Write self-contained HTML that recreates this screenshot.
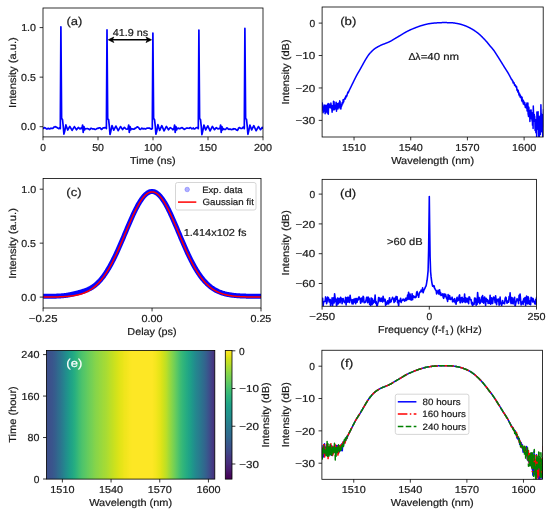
<!DOCTYPE html>
<html><head><meta charset="utf-8"><style>
html,body{margin:0;padding:0;background:#fff;}
svg{display:block;font-family:"Liberation Sans", sans-serif;text-rendering:geometricPrecision;will-change:transform;}

</style></head><body>
<svg width="550" height="513" viewBox="0 0 550 513">
<rect width="550" height="513" fill="#fff"/>
<clipPath id="ca"><rect x="43" y="8" width="220" height="128.9"/></clipPath>
<g clip-path="url(#ca)">
<polyline points="42,128.6 42.7,128.65 43.41,128.24 44.11,127.88 44.82,127.67 45.52,127.96 46.22,128.76 46.93,129.11 47.63,128.62 48.33,128.29 49.04,128.75 49.74,129 50.45,128.44 51.15,128.16 51.85,128.5 52.56,128.43 53.26,128.02 53.97,127.15 54.67,126.99 55.37,126.55 56.08,127.11 56.78,127.32 57.48,127.98 58.19,128.32 58.89,128.71 59.6,127.62 60.3,128.6 60.9,26.8 61.6,118.37 62.5,119.49 63.3,127.03 63.9,134.12 64.7,131.38 65.9,124.96 67.7,130 69.8,126.37 72.1,130.4 74.4,126.59 76.5,129.82 78.3,127.45 79.9,128.97 80.9,128.21 81.9,128.6 82.6,125 83.2,132.5 83.9,126.5 84.5,130 85.2,128.6 85.91,128.73 86.61,128.66 87.32,128.49 88.03,128.74 88.73,129.07 89.44,129.65 90.15,129.28 90.85,128.31 91.56,128.4 92.27,128.85 92.97,128.98 93.68,128.85 94.39,129.07 95.09,129.45 95.8,129.32 96.51,128.88 97.21,128.27 97.92,128.49 98.63,128.04 99.33,127.84 100.04,127.79 100.75,128.62 101.45,129.41 102.16,129.01 102.87,128.07 103.57,127.95 104.28,127.88 104.99,127.67 105.69,127.58 106.4,128.6 107,29.9 107.7,118.81 108.6,119.67 109.4,126.92 110,134.41 110.8,131.44 112,125.58 113.8,130.09 115.9,126.02 118.2,130.69 120.5,126.57 122.6,129.55 124.4,127.32 126,129 127,129.26 128,128.6 128.7,125 129.3,132.5 130,126.5 130.6,130 131.3,128.6 132,128.8 132.7,129.08 133.4,129 134.1,129.21 134.8,128.41 135.5,128.3 136.2,127.66 136.9,127.12 137.6,126.84 138.3,127.35 139,128.1 139.7,129.19 140.4,129.47 141.1,128.79 141.8,128.05 142.5,128.65 143.2,128.86 143.9,128.62 144.6,128.69 145.3,129.07 146,128.74 146.7,128.25 147.4,128.19 148.1,128.19 148.8,128.18 149.5,128.01 150.2,128.63 150.9,128.84 151.6,129.09 152.3,128.6 152.9,33.1 153.6,118.35 154.5,119.47 155.3,126.5 155.9,134.22 156.7,131.59 157.9,124.67 159.7,130.41 161.8,125.66 164.1,130.79 166.4,126.39 168.5,129.79 170.3,127.63 171.9,128.62 172.9,129.76 173.9,128.6 174.6,125 175.2,132.5 175.9,126.5 176.5,130 177.2,128.6 177.9,128.05 178.61,128.46 179.31,128.58 180.01,128.72 180.72,128.07 181.42,127.95 182.12,127.51 182.83,128.2 183.53,128.69 184.23,129.36 184.94,129.03 185.64,128.71 186.34,128.14 187.05,127.97 187.75,128.2 188.45,128.25 189.16,128.3 189.86,127.79 190.56,127.5 191.27,128.3 191.97,128.87 192.67,128.49 193.38,127.95 194.08,128.9 194.78,128.88 195.49,128.32 196.19,127.71 196.89,127.55 197.6,127.76 198.3,128.6 198.9,30 199.6,118.49 200.5,119.52 201.3,126.81 201.9,134.61 202.7,131.37 203.9,125.16 205.7,129.92 207.8,125.8 210.1,130.93 212.4,126.47 214.5,129.67 216.3,127.59 217.9,128.89 218.9,128.61 219.9,128.6 220.6,125 221.2,132.5 221.9,126.5 222.5,130 223.2,128.6 223.9,129 224.61,129.45 225.31,129.52 226.01,128.84 226.72,127.94 227.42,128.05 228.12,128.92 228.83,129.39 229.53,129.1 230.23,129.11 230.94,129.51 231.64,129.65 232.34,129.2 233.05,129.29 233.75,128.72 234.45,128.87 235.16,128.75 235.86,129.5 236.56,129.93 237.27,130.42 237.97,129.62 238.67,127.95 239.38,127.63 240.08,127.99 240.78,128.39 241.49,128.53 242.19,128.4 242.89,127.3 243.6,127.03 244.3,128.6 244.9,28.4 245.6,118.51 246.5,119.44 247.3,127.01 247.9,134.28 248.7,131.12 249.9,125.16 251.7,129.96 253.8,125.69 256.1,130.73 258.4,126.58 260.5,129.7 262.3,127.35 263.9,128.84 264.9,127.86 265.9,128.6 266.6,125 267.2,132.5 267.9,126.5 268.5,130 269.2,128.6 264,128.6" fill="none" stroke="#0000ff" stroke-width="1.7" stroke-linejoin="round" />
</g>
<rect x="43" y="8" width="220" height="128.9" fill="none" stroke="#000" stroke-width="0.8"/>
<line x1="43" y1="136.9" x2="43" y2="140.28" stroke="#000" stroke-width="0.8" />
<text x="40.15" y="150.98" font-size="10.13" fill="#1a1a1a" stroke="#1a1a1a" stroke-width="0.2" textLength="5.68" lengthAdjust="spacingAndGlyphs">0</text>
<line x1="98" y1="136.9" x2="98" y2="140.28" stroke="#000" stroke-width="0.8" />
<text x="92.19" y="150.98" font-size="10.13" fill="#1a1a1a" stroke="#1a1a1a" stroke-width="0.2" textLength="11.75" lengthAdjust="spacingAndGlyphs">50</text>
<line x1="153" y1="136.9" x2="153" y2="140.28" stroke="#000" stroke-width="0.8" />
<text x="144.05" y="150.98" font-size="10.13" fill="#1a1a1a" stroke="#1a1a1a" stroke-width="0.2" textLength="17.94" lengthAdjust="spacingAndGlyphs">100</text>
<line x1="208" y1="136.9" x2="208" y2="140.28" stroke="#000" stroke-width="0.8" />
<text x="199.05" y="150.98" font-size="10.13" fill="#1a1a1a" stroke="#1a1a1a" stroke-width="0.2" textLength="17.94" lengthAdjust="spacingAndGlyphs">150</text>
<line x1="263" y1="136.9" x2="263" y2="140.28" stroke="#000" stroke-width="0.8" />
<text x="253.95" y="150.98" font-size="10.13" fill="#1a1a1a" stroke="#1a1a1a" stroke-width="0.2" textLength="18.04" lengthAdjust="spacingAndGlyphs">200</text>
<line x1="39.62" y1="27.6" x2="43" y2="27.6" stroke="#000" stroke-width="0.8" />
<text x="21.16" y="31.35" font-size="10.13" fill="#1a1a1a" stroke="#1a1a1a" stroke-width="0.2" textLength="14.86" lengthAdjust="spacingAndGlyphs">1.0</text>
<line x1="39.62" y1="77.15" x2="43" y2="77.15" stroke="#000" stroke-width="0.8" />
<text x="21.11" y="80.9" font-size="10.13" fill="#1a1a1a" stroke="#1a1a1a" stroke-width="0.2" textLength="14.75" lengthAdjust="spacingAndGlyphs">0.5</text>
<line x1="39.62" y1="126.7" x2="43" y2="126.7" stroke="#000" stroke-width="0.8" />
<text x="21.1" y="130.45" font-size="10.13" fill="#1a1a1a" stroke="#1a1a1a" stroke-width="0.2" textLength="14.92" lengthAdjust="spacingAndGlyphs">0.0</text>
<text x="130.05" y="163.5" font-size="10.13" fill="#1a1a1a" stroke="#1a1a1a" stroke-width="0.2" textLength="45.46" lengthAdjust="spacingAndGlyphs">Time (ns)</text>
<text transform="translate(15.6,72.4) rotate(-90)" x="-35.53" y="0" font-size="10.13" fill="#1a1a1a" stroke="#1a1a1a" stroke-width="0.2" textLength="70.71" lengthAdjust="spacingAndGlyphs">Intensity (a.u.)</text>
<text x="66.49" y="24.9" font-size="11.35" fill="#1a1a1a" stroke="#1a1a1a" stroke-width="0.2" textLength="15.89" lengthAdjust="spacingAndGlyphs">(a)</text>
<text x="112.78" y="35.6" font-size="10.13" fill="#1a1a1a" stroke="#1a1a1a" stroke-width="0.2" textLength="35.39" lengthAdjust="spacingAndGlyphs">41.9 ns</text>
<line x1="110" y1="39.8" x2="150" y2="39.8" stroke="#000" stroke-width="1.45"/>
<path d="M108.3,39.8 L113.8,37.1 L112.3,39.8 L113.8,42.5 Z" fill="#000" stroke="#000" stroke-width="0.7" stroke-linejoin="round"/>
<path d="M151.5,39.8 L146.0,37.1 L147.5,39.8 L146.0,42.5 Z" fill="#000" stroke="#000" stroke-width="0.7" stroke-linejoin="round"/>
<clipPath id="cb"><rect x="322.1" y="7" width="221.1" height="130"/></clipPath>
<g clip-path="url(#cb)">
<polyline points="321.5,110.38 321.7,106.67 321.9,105.42 322.1,105.43 322.3,103.05 322.5,109.66 322.7,106.85 322.9,109.57 323.1,112.72 323.3,110.54 323.5,108.01 323.7,111.14 323.9,108.96 324.1,105.03 324.3,106.65 324.5,106.63 324.7,107.29 324.9,108.82 325.1,113.84 325.3,105.32 325.5,112.72 325.7,107.59 325.9,108.54 326.1,107.79 326.3,107.43 326.5,109.15 326.7,105.48 326.9,111.91 327.1,105.76 327.3,113.06 327.5,104.57 327.7,109.53 327.9,106.91 328.1,103.56 328.3,114.31 328.5,108.86 328.7,106.23 328.9,105.26 329.1,103.89 329.3,106.06 329.5,106.3 329.7,107.46 329.9,106.98 330.1,107.51 330.3,104.86 330.5,107.2 330.7,105.73 330.9,103.06 331.1,104.3 331.3,108.46 331.5,107.76 331.7,105.44 331.9,109.15 332.1,112.3 332.3,110.04 332.5,105.86 332.7,107.81 332.9,108.15 333.1,105.23 333.3,109.86 333.5,101.27 333.7,107 333.9,107.84 334.1,101.84 334.3,109.67 334.5,108.13 334.7,107.08 334.9,109.17 335.1,107.6 335.3,105.32 335.5,106.28 335.7,106.75 335.9,104.27 336.1,102.16 336.3,102.9 336.5,111.21 336.7,103.3 336.9,104.61 337.1,105.38 337.3,108.37 337.5,107.14 337.7,106.55 337.9,108.98 338.1,103.38 338.3,104.05 338.5,105.85 338.7,107.66 338.9,102.97 339.1,104.31 339.3,103.41 339.5,106.2 339.7,100.71 339.9,105.45 340.1,101.43 340.3,108.65 340.5,104.28 340.7,104.56 340.9,109.03 341.1,105.54 341.3,106.34 341.5,106.42 341.7,105.11 341.9,105.53 342.1,102.92 342.3,102.48 342.5,102.53 342.7,103.87 342.9,103.07 343.1,99.76 343.3,102.27 343.5,101.53 343.7,101.93 343.9,100.16 344.1,99.36 344.3,99.09 344.5,99.12 344.7,98.39 344.9,98.98 345.1,97.67 345.3,98.9 345.5,97.4 345.7,96.31 345.9,97.61 346.1,95.69 346.3,95.71 346.5,96.46 346.7,96.34 346.9,95.84 347.1,95.04 347.3,93.9 347.5,93.57 347.7,92.8 347.9,92.1 348.1,92.7 348.3,92.7 348.5,92.09 348.7,91.71 348.9,91.07 349.1,90.64 349.3,90.2 349.5,89.81 349.7,89.41 349.9,89.01 350.1,88.6 350.3,88.19 350.5,87.79 350.7,87.38 350.9,86.97 351.1,86.56 351.3,86.15 351.5,85.74 351.7,85.33 351.9,84.93 352.1,84.52 352.3,84.11 352.5,83.71 352.7,83.3 352.9,82.9 353.1,82.49 353.3,82.09 353.5,81.68 353.7,81.27 353.9,80.86 354.1,80.45 354.3,80.04 354.5,79.64 354.7,79.23 354.9,78.82 355.1,78.42 355.3,78.02 355.5,77.62 355.7,77.22 355.9,76.83 356.1,76.44 356.3,76.06 356.5,75.68 356.7,75.3 356.9,74.93 357.1,74.57 357.3,74.21 357.5,73.85 357.7,73.5 357.9,73.15 358.1,72.8 358.3,72.46 358.5,72.12 358.7,71.78 358.9,71.44 359.1,71.1 359.3,70.76 359.5,70.42 359.7,70.07 359.9,69.73 360.1,69.38 360.3,69.03 360.5,68.68 360.7,68.32 360.9,67.96 361.1,67.6 361.3,67.23 361.5,66.86 361.7,66.49 361.9,66.13 362.1,65.76 362.3,65.39 362.5,65.02 362.7,64.66 362.9,64.3 363.1,63.94 363.3,63.58 363.5,63.22 363.7,62.86 363.9,62.5 364.1,62.14 364.3,61.78 364.5,61.42 364.7,61.07 364.9,60.72 365.1,60.37 365.3,60.03 365.5,59.7 365.7,59.36 365.9,59.04 366.1,58.71 366.3,58.39 366.5,58.07 366.7,57.74 366.9,57.43 367.1,57.11 367.3,56.8 367.5,56.5 367.7,56.2 367.9,55.91 368.1,55.62 368.3,55.34 368.5,55.06 368.7,54.8 368.9,54.54 369.1,54.29 369.3,54.04 369.5,53.8 369.7,53.56 369.9,53.33 370.1,53.1 370.3,52.87 370.5,52.65 370.7,52.44 370.9,52.22 371.1,52.01 371.3,51.8 371.5,51.6 371.7,51.4 371.9,51.2 372.1,51 372.3,50.81 372.5,50.62 372.7,50.43 372.9,50.24 373.1,50.06 373.3,49.88 373.5,49.71 373.7,49.53 373.9,49.37 374.1,49.21 374.3,49.05 374.5,48.9 374.7,48.75 374.9,48.61 375.1,48.47 375.3,48.34 375.5,48.2 375.7,48.07 375.9,47.94 376.1,47.82 376.3,47.69 376.5,47.57 376.7,47.45 376.9,47.34 377.1,47.22 377.3,47.11 377.5,46.99 377.7,46.88 377.9,46.77 378.1,46.66 378.3,46.54 378.5,46.43 378.7,46.33 378.9,46.22 379.1,46.11 379.3,46.01 379.5,45.9 379.7,45.8 379.9,45.7 380.1,45.59 380.3,45.5 380.5,45.4 380.7,45.3 380.9,45.21 381.1,45.11 381.3,45.02 381.5,44.93 381.7,44.84 381.9,44.76 382.1,44.67 382.3,44.59 382.5,44.51 382.7,44.44 382.9,44.36 383.1,44.28 383.3,44.21 383.5,44.14 383.7,44.07 383.9,43.99 384.1,43.92 384.3,43.85 384.5,43.78 384.7,43.7 384.9,43.63 385.1,43.56 385.3,43.48 385.5,43.4 385.7,43.32 385.9,43.24 386.1,43.16 386.3,43.08 386.5,43 386.7,42.92 386.9,42.84 387.1,42.76 387.3,42.68 387.5,42.59 387.7,42.51 387.9,42.43 388.1,42.34 388.3,42.26 388.5,42.17 388.7,42.08 388.9,41.99 389.1,41.9 389.3,41.81 389.5,41.71 389.7,41.62 389.9,41.52 390.1,41.43 390.3,41.33 390.5,41.22 390.7,41.12 390.9,41.02 391.1,40.91 391.3,40.8 391.5,40.69 391.7,40.57 391.9,40.45 392.1,40.33 392.3,40.2 392.5,40.08 392.7,39.95 392.9,39.82 393.1,39.69 393.3,39.56 393.5,39.44 393.7,39.31 393.9,39.18 394.1,39.06 394.3,38.94 394.5,38.82 394.7,38.7 394.9,38.58 395.1,38.47 395.3,38.35 395.5,38.23 395.7,38.12 395.9,38 396.1,37.89 396.3,37.77 396.5,37.65 396.7,37.54 396.9,37.42 397.1,37.31 397.3,37.19 397.5,37.08 397.7,36.96 397.9,36.84 398.1,36.72 398.3,36.61 398.5,36.49 398.7,36.37 398.9,36.25 399.1,36.13 399.3,36.01 399.5,35.9 399.7,35.78 399.9,35.66 400.1,35.54 400.3,35.42 400.5,35.3 400.7,35.18 400.9,35.06 401.1,34.94 401.3,34.82 401.5,34.7 401.7,34.57 401.9,34.45 402.1,34.33 402.3,34.2 402.5,34.08 402.7,33.96 402.9,33.83 403.1,33.71 403.3,33.59 403.5,33.47 403.7,33.34 403.9,33.22 404.1,33.1 404.3,32.98 404.5,32.86 404.7,32.74 404.9,32.62 405.1,32.51 405.3,32.39 405.5,32.28 405.7,32.16 405.9,32.05 406.1,31.94 406.3,31.83 406.5,31.72 406.7,31.61 406.9,31.51 407.1,31.4 407.3,31.3 407.5,31.2 407.7,31.1 407.9,31 408.1,30.9 408.3,30.8 408.5,30.71 408.7,30.61 408.9,30.52 409.1,30.42 409.3,30.33 409.5,30.23 409.7,30.14 409.9,30.05 410.1,29.96 410.3,29.87 410.5,29.78 410.7,29.69 410.9,29.6 411.1,29.51 411.3,29.42 411.5,29.34 411.7,29.25 411.9,29.17 412.1,29.08 412.3,29 412.5,28.91 412.7,28.83 412.9,28.75 413.1,28.66 413.3,28.58 413.5,28.5 413.7,28.42 413.9,28.34 414.1,28.26 414.3,28.18 414.5,28.1 414.7,28.02 414.9,27.94 415.1,27.86 415.3,27.79 415.5,27.71 415.7,27.63 415.9,27.55 416.1,27.47 416.3,27.4 416.5,27.32 416.7,27.24 416.9,27.17 417.1,27.09 417.3,27.02 417.5,26.94 417.7,26.87 417.9,26.8 418.1,26.72 418.3,26.65 418.5,26.58 418.7,26.51 418.9,26.44 419.1,26.37 419.3,26.3 419.5,26.23 419.7,26.16 419.9,26.09 420.1,26.03 420.3,25.96 420.5,25.9 420.7,25.83 420.9,25.77 421.1,25.71 421.3,25.65 421.5,25.59 421.7,25.53 421.9,25.47 422.1,25.41 422.3,25.35 422.5,25.3 422.7,25.24 422.9,25.18 423.1,25.12 423.3,25.06 423.5,25.01 423.7,24.95 423.9,24.89 424.1,24.84 424.3,24.78 424.5,24.73 424.7,24.67 424.9,24.62 425.1,24.56 425.3,24.51 425.5,24.46 425.7,24.41 425.9,24.36 426.1,24.31 426.3,24.26 426.5,24.21 426.7,24.17 426.9,24.12 427.1,24.08 427.3,24.03 427.5,23.99 427.7,23.95 427.9,23.91 428.1,23.87 428.3,23.83 428.5,23.8 428.7,23.76 428.9,23.73 429.1,23.7 429.3,23.67 429.5,23.64 429.7,23.61 429.9,23.58 430.1,23.55 430.3,23.53 430.5,23.5 430.7,23.47 430.9,23.44 431.1,23.42 431.3,23.39 431.5,23.37 431.7,23.34 431.9,23.32 432.1,23.29 432.3,23.27 432.5,23.24 432.7,23.22 432.9,23.2 433.1,23.18 433.3,23.16 433.5,23.14 433.7,23.12 433.9,23.1 434.1,23.08 434.3,23.06 434.5,23.04 434.7,23.02 434.9,23.01 435.1,22.99 435.3,22.98 435.5,22.96 435.7,22.95 435.9,22.93 436.1,22.92 436.3,22.91 436.5,22.89 436.7,22.88 436.9,22.87 437.1,22.86 437.3,22.85 437.5,22.83 437.7,22.82 437.9,22.81 438.1,22.8 438.3,22.79 438.5,22.77 438.7,22.76 438.9,22.75 439.1,22.74 439.3,22.73 439.5,22.72 439.7,22.71 439.9,22.7 440.1,22.69 440.3,22.68 440.5,22.67 440.7,22.66 440.9,22.66 441.1,22.65 441.3,22.64 441.5,22.64 441.7,22.63 441.9,22.62 442.1,22.62 442.3,22.61 442.5,22.61 442.7,22.61 442.9,22.6 443.1,22.6 443.3,22.6 443.5,22.6 443.7,22.6 443.9,22.6 444.1,22.6 444.3,22.6 444.5,22.6 444.7,22.6 444.9,22.6 445.1,22.6 445.3,22.61 445.5,22.61 445.7,22.61 445.9,22.61 446.1,22.61 446.3,22.62 446.5,22.62 446.7,22.62 446.9,22.62 447.1,22.63 447.3,22.63 447.5,22.63 447.7,22.63 447.9,22.64 448.1,22.64 448.3,22.64 448.5,22.65 448.7,22.65 448.9,22.66 449.1,22.66 449.3,22.66 449.5,22.67 449.7,22.67 449.9,22.68 450.1,22.68 450.3,22.69 450.5,22.69 450.7,22.7 450.9,22.7 451.1,22.71 451.3,22.71 451.5,22.72 451.7,22.73 451.9,22.75 452.1,22.76 452.3,22.78 452.5,22.8 452.7,22.81 452.9,22.84 453.1,22.86 453.3,22.88 453.5,22.9 453.7,22.93 453.9,22.96 454.1,22.98 454.3,23.01 454.5,23.04 454.7,23.07 454.9,23.11 455.1,23.14 455.3,23.17 455.5,23.2 455.7,23.24 455.9,23.27 456.1,23.31 456.3,23.35 456.5,23.38 456.7,23.42 456.9,23.46 457.1,23.49 457.3,23.53 457.5,23.57 457.7,23.61 457.9,23.64 458.1,23.68 458.3,23.72 458.5,23.76 458.7,23.8 458.9,23.84 459.1,23.89 459.3,23.93 459.5,23.98 459.7,24.03 459.9,24.08 460.1,24.13 460.3,24.18 460.5,24.23 460.7,24.29 460.9,24.35 461.1,24.4 461.3,24.46 461.5,24.52 461.7,24.58 461.9,24.64 462.1,24.71 462.3,24.77 462.5,24.84 462.7,24.9 462.9,24.97 463.1,25.04 463.3,25.1 463.5,25.17 463.7,25.24 463.9,25.31 464.1,25.39 464.3,25.46 464.5,25.53 464.7,25.6 464.9,25.68 465.1,25.75 465.3,25.82 465.5,25.9 465.7,25.98 465.9,26.05 466.1,26.13 466.3,26.21 466.5,26.3 466.7,26.38 466.9,26.47 467.1,26.56 467.3,26.64 467.5,26.74 467.7,26.83 467.9,26.92 468.1,27.02 468.3,27.11 468.5,27.21 468.7,27.31 468.9,27.41 469.1,27.51 469.3,27.61 469.5,27.71 469.7,27.82 469.9,27.92 470.1,28.03 470.3,28.14 470.5,28.25 470.7,28.36 470.9,28.47 471.1,28.58 471.3,28.69 471.5,28.8 471.7,28.92 471.9,29.03 472.1,29.15 472.3,29.27 472.5,29.38 472.7,29.5 472.9,29.62 473.1,29.74 473.3,29.86 473.5,29.99 473.7,30.11 473.9,30.24 474.1,30.37 474.3,30.5 474.5,30.63 474.7,30.76 474.9,30.9 475.1,31.03 475.3,31.17 475.5,31.31 475.7,31.45 475.9,31.6 476.1,31.74 476.3,31.89 476.5,32.04 476.7,32.19 476.9,32.34 477.1,32.49 477.3,32.64 477.5,32.8 477.7,32.96 477.9,33.12 478.1,33.28 478.3,33.44 478.5,33.6 478.7,33.76 478.9,33.93 479.1,34.1 479.3,34.27 479.5,34.45 479.7,34.62 479.9,34.8 480.1,34.98 480.3,35.17 480.5,35.35 480.7,35.54 480.9,35.73 481.1,35.92 481.3,36.11 481.5,36.3 481.7,36.5 481.9,36.7 482.1,36.9 482.3,37.1 482.5,37.3 482.7,37.5 482.9,37.71 483.1,37.91 483.3,38.12 483.5,38.33 483.7,38.54 483.9,38.75 484.1,38.96 484.3,39.18 484.5,39.39 484.7,39.6 484.9,39.82 485.1,40.04 485.3,40.25 485.5,40.47 485.7,40.69 485.9,40.91 486.1,41.13 486.3,41.36 486.5,41.59 486.7,41.83 486.9,42.07 487.1,42.31 487.3,42.55 487.5,42.8 487.7,43.04 487.9,43.29 488.1,43.54 488.3,43.79 488.5,44.03 488.7,44.28 488.9,44.53 489.1,44.77 489.3,45.02 489.5,45.26 489.7,45.5 489.9,45.74 490.1,45.97 490.3,46.2 490.5,46.43 490.7,46.66 490.9,46.88 491.1,47.11 491.3,47.33 491.5,47.56 491.7,47.79 491.9,48.02 492.1,48.25 492.3,48.48 492.5,48.72 492.7,48.96 492.9,49.2 493.1,49.45 493.3,49.71 493.5,49.97 493.7,50.23 493.9,50.51 494.1,50.79 494.3,51.08 494.5,51.38 494.7,51.68 494.9,51.98 495.1,52.29 495.3,52.6 495.5,52.91 495.7,53.23 495.9,53.54 496.1,53.86 496.3,54.17 496.5,54.49 496.7,54.8 496.9,55.11 497.1,55.42 497.3,55.74 497.5,56.05 497.7,56.37 497.9,56.68 498.1,57 498.3,57.32 498.5,57.64 498.7,57.95 498.9,58.27 499.1,58.59 499.3,58.91 499.5,59.24 499.7,59.56 499.9,59.88 500.1,60.2 500.3,60.52 500.5,60.84 500.7,61.16 500.9,61.48 501.1,61.8 501.3,62.13 501.5,62.45 501.7,62.77 501.9,63.1 502.1,63.42 502.3,63.74 502.5,64.07 502.7,64.39 502.9,64.72 503.1,65.04 503.3,65.37 503.5,65.69 503.7,66.01 503.9,66.34 504.1,66.66 504.3,66.98 504.5,67.3 504.7,67.62 504.9,67.94 505.1,68.25 505.3,68.56 505.5,68.87 505.7,69.18 505.9,69.49 506.1,69.8 506.3,70.11 506.5,70.42 506.7,70.73 506.9,71.05 507.1,71.36 507.3,71.68 507.5,72 507.7,72.33 507.9,72.66 508.1,72.99 508.3,73.33 508.5,73.67 508.7,74.03 508.9,74.39 509.1,74.75 509.3,75.16 509.5,75.49 509.7,75.92 509.9,76.29 510.1,76.52 510.3,77.1 510.5,77.42 510.7,77.75 510.9,77.98 511.1,78.77 511.3,79.2 511.5,79 511.7,79.28 511.9,79.53 512.1,79.85 512.3,80.72 512.5,80.79 512.7,80.77 512.9,81.11 513.1,83.01 513.3,82.02 513.5,82.34 513.7,82.44 513.9,82.64 514.1,83.05 514.3,83.83 514.5,85.14 514.7,84.38 514.9,85.23 515.1,84.78 515.3,85.99 515.5,86.13 515.7,86.59 515.9,86.24 516.1,85.98 516.3,87.29 516.5,86.42 516.7,87.26 516.9,89.96 517.1,90.26 517.3,89.67 517.5,89.63 517.7,91.75 517.9,89.88 518.1,92.45 518.3,90.48 518.5,92.2 518.7,92.36 518.9,94.77 519.1,93.06 519.3,95.75 519.5,94.96 519.7,95.01 519.9,94.32 520.1,96.17 520.3,97.46 520.5,95.54 520.7,96.5 520.9,97.25 521.1,96.46 521.3,97.84 521.5,97.07 521.7,100.71 521.9,98.81 522.1,97.25 522.3,101.82 522.5,101.19 522.7,101.06 522.9,100.23 523.1,100.09 523.3,104.01 523.5,100.86 523.7,102.68 523.9,103.07 524.1,103.39 524.3,104.66 524.5,103.01 524.7,102.39 524.9,103.48 525.1,105.7 525.3,107.32 525.5,104.75 525.7,105.56 525.9,106.37 526.1,107.91 526.3,106.27 526.5,108.03 526.7,105.86 526.9,103.1 527.1,110.95 527.3,105.87 527.5,109.43 527.7,106.03 527.9,103.12 528.1,114.05 528.3,114.66 528.5,116.49 528.7,106.89 528.9,107.61 529.1,112.61 529.3,113 529.5,113.49 529.7,113.57 529.9,121.53 530.1,114.69 530.3,117.64 530.5,110.18 530.7,115.59 530.9,118.37 531.1,109.91 531.3,118.74 531.5,117.38 531.7,112.56 531.9,118.11 532.1,121.16 532.3,115.06 532.5,125.12 532.7,125.16 532.9,112.7 533.1,128.5 533.3,105.92 533.5,112.02 533.7,115.25 533.9,121.26 534.1,117.29 534.3,114.45 534.5,120.18 534.7,116.21 534.9,119.7 535.1,130.49 535.3,124.54 535.5,119.56 535.7,127.09 535.9,132.76 536.1,126.07 536.3,128.33 536.5,119.76 536.7,139.02 536.9,112.08 537.1,113.95 537.3,115.12 537.5,116.98 537.7,128.27 537.9,121.38 538.1,111.86 538.3,129.65 538.5,116.14 538.7,133.66 538.9,137.99 539.1,120.62 539.3,137.43 539.5,134.68 539.7,119.76 539.9,117.02 540.1,116.12 540.3,134.49 540.5,125 540.7,129.22 540.9,104.82 541.1,113.26 541.3,119.56 541.5,125.43 541.7,131.85 541.9,114.53 542.1,121.11 542.3,121.83 542.5,123.58 542.7,136.31 542.9,127.21 543.1,120.33 543.3,114.52 543.5,109.46 543.7,119.83 543.9,127.2" fill="none" stroke="#0000ff" stroke-width="1.5" stroke-linejoin="round" />
</g>
<rect x="322.1" y="7" width="221.1" height="130" fill="none" stroke="#000" stroke-width="0.8"/>
<line x1="354.04" y1="137" x2="354.04" y2="140.38" stroke="#000" stroke-width="0.8" />
<text x="342" y="151.08" font-size="10.13" fill="#1a1a1a" stroke="#1a1a1a" stroke-width="0.2" textLength="24.11" lengthAdjust="spacingAndGlyphs">1510</text>
<line x1="410.73" y1="137" x2="410.73" y2="140.38" stroke="#000" stroke-width="0.8" />
<text x="398.7" y="151.08" font-size="10.13" fill="#1a1a1a" stroke="#1a1a1a" stroke-width="0.2" textLength="24.11" lengthAdjust="spacingAndGlyphs">1540</text>
<line x1="467.42" y1="137" x2="467.42" y2="140.38" stroke="#000" stroke-width="0.8" />
<text x="455.39" y="151.08" font-size="10.13" fill="#1a1a1a" stroke="#1a1a1a" stroke-width="0.2" textLength="24.11" lengthAdjust="spacingAndGlyphs">1570</text>
<line x1="524.11" y1="137" x2="524.11" y2="140.38" stroke="#000" stroke-width="0.8" />
<text x="512.08" y="151.08" font-size="10.13" fill="#1a1a1a" stroke="#1a1a1a" stroke-width="0.2" textLength="24.11" lengthAdjust="spacingAndGlyphs">1600</text>
<line x1="318.72" y1="23.1" x2="322.1" y2="23.1" stroke="#000" stroke-width="0.8" />
<text x="309.43" y="26.85" font-size="10.13" fill="#1a1a1a" stroke="#1a1a1a" stroke-width="0.2" textLength="5.68" lengthAdjust="spacingAndGlyphs">0</text>
<line x1="318.72" y1="55.53" x2="322.1" y2="55.53" stroke="#000" stroke-width="0.8" />
<text x="295.42" y="59.28" font-size="10.13" fill="#1a1a1a" stroke="#1a1a1a" stroke-width="0.2" textLength="19.76" lengthAdjust="spacingAndGlyphs">−10</text>
<line x1="318.72" y1="87.96" x2="322.1" y2="87.96" stroke="#000" stroke-width="0.8" />
<text x="295.42" y="91.71" font-size="10.13" fill="#1a1a1a" stroke="#1a1a1a" stroke-width="0.2" textLength="19.76" lengthAdjust="spacingAndGlyphs">−20</text>
<line x1="318.72" y1="120.39" x2="322.1" y2="120.39" stroke="#000" stroke-width="0.8" />
<text x="295.42" y="124.14" font-size="10.13" fill="#1a1a1a" stroke="#1a1a1a" stroke-width="0.2" textLength="19.76" lengthAdjust="spacingAndGlyphs">−30</text>
<text x="391.18" y="163.6" font-size="10.13" fill="#1a1a1a" stroke="#1a1a1a" stroke-width="0.2" textLength="82.92" lengthAdjust="spacingAndGlyphs">Wavelength (nm)</text>
<text transform="translate(288.6,71.8) rotate(-90)" x="-32.82" y="0" font-size="10.13" fill="#1a1a1a" stroke="#1a1a1a" stroke-width="0.2" textLength="65.3" lengthAdjust="spacingAndGlyphs">Intensity (dB)</text>
<text x="340.17" y="25.1" font-size="11.35" fill="#1a1a1a" stroke="#1a1a1a" stroke-width="0.2" textLength="16.18" lengthAdjust="spacingAndGlyphs">(b)</text>
<text x="408.58" y="59.5" font-size="10.13" fill="#1a1a1a" stroke="#1a1a1a" stroke-width="0.2" textLength="7.08" lengthAdjust="spacingAndGlyphs">Δ</text>
<text x="415.27" y="59.5" font-size="10.13" fill="#1a1a1a" stroke="#1a1a1a" stroke-width="0.2" textLength="5.19" lengthAdjust="spacingAndGlyphs">λ</text>
<text x="420.66" y="59.5" font-size="10.13" fill="#1a1a1a" stroke="#1a1a1a" stroke-width="0.2" textLength="38.42" lengthAdjust="spacingAndGlyphs">=40 nm</text>
<clipPath id="cc"><rect x="43.1" y="178.5" width="217.9" height="129.5"/></clipPath>
<g clip-path="url(#cc)">
<polyline points="43.1,296.32 43.65,296.32 44.19,296.31 44.74,296.31 45.28,296.31 45.83,296.3 46.38,296.3 46.92,296.3 47.47,296.29 48.02,296.29 48.56,296.28 49.11,296.28 49.65,296.27 50.2,296.27 50.75,296.26 51.29,296.25 51.84,296.24 52.38,296.23 52.93,296.22 53.48,296.21 54.02,296.2 54.57,296.18 55.11,296.17 55.66,296.15 56.21,296.13 56.75,296.11 57.3,296.09 57.85,296.07 58.39,296.04 58.94,296.01 59.48,295.98 60.03,295.95 60.58,295.91 61.12,295.87 61.67,295.83 62.21,295.78 62.76,295.73 63.31,295.68 63.85,295.62 64.4,295.56 64.94,295.5 65.49,295.43 66.04,295.35 66.58,295.28 67.13,295.2 67.68,295.11 68.22,295.02 68.77,294.93 69.31,294.83 69.86,294.73 70.41,294.62 70.95,294.51 71.5,294.4 72.04,294.28 72.59,294.16 73.14,294.04 73.68,293.92 74.23,293.79 74.77,293.66 75.32,293.52 75.87,293.39 76.41,293.25 76.96,293.11 77.51,292.97 78.05,292.83 78.6,292.68 79.14,292.53 79.69,292.38 80.24,292.23 80.78,292.07 81.33,291.91 81.87,291.75 82.42,291.59 82.97,291.41 83.51,291.24 84.06,291.06 84.6,290.87 85.15,290.68 85.7,290.48 86.24,290.27 86.79,290.05 87.34,289.82 87.88,289.59 88.43,289.34 88.97,289.08 89.52,288.81 90.07,288.52 90.61,288.23 91.16,287.91 91.7,287.59 92.25,287.25 92.8,286.89 93.34,286.52 93.89,286.13 94.43,285.72 94.98,285.3 95.53,284.85 96.07,284.39 96.62,283.91 97.17,283.42 97.71,282.9 98.26,282.36 98.8,281.81 99.35,281.23 99.9,280.64 100.44,280.02 100.99,279.38 101.53,278.73 102.08,278.05 102.63,277.36 103.17,276.64 103.72,275.9 104.26,275.15 104.81,274.37 105.36,273.57 105.9,272.75 106.45,271.91 107,271.06 107.54,270.18 108.09,269.28 108.63,268.36 109.18,267.42 109.73,266.47 110.27,265.49 110.82,264.49 111.36,263.48 111.91,262.45 112.46,261.4 113,260.33 113.55,259.25 114.09,258.14 114.64,257.03 115.19,255.89 115.73,254.74 116.28,253.58 116.83,252.4 117.37,251.21 117.92,250 118.46,248.79 119.01,247.56 119.56,246.32 120.1,245.07 120.65,243.81 121.19,242.54 121.74,241.27 122.29,239.99 122.83,238.7 123.38,237.41 123.93,236.11 124.47,234.81 125.02,233.51 125.56,232.21 126.11,230.91 126.66,229.61 127.2,228.32 127.75,227.02 128.29,225.74 128.84,224.46 129.39,223.18 129.93,221.92 130.48,220.66 131.02,219.42 131.57,218.18 132.12,216.97 132.66,215.76 133.21,214.57 133.76,213.4 134.3,212.25 134.85,211.12 135.39,210 135.94,208.91 136.49,207.85 137.03,206.81 137.58,205.79 138.12,204.8 138.67,203.84 139.22,202.9 139.76,202 140.31,201.13 140.85,200.29 141.4,199.48 141.95,198.71 142.49,197.97 143.04,197.27 143.59,196.6 144.13,195.98 144.68,195.39 145.22,194.84 145.77,194.33 146.32,193.86 146.86,193.43 147.41,193.04 147.95,192.69 148.5,192.39 149.05,192.13 149.59,191.91 150.14,191.73 150.68,191.6 151.23,191.52 151.78,191.47 152.32,191.47 152.87,191.52 153.42,191.6 153.96,191.73 154.51,191.91 155.05,192.13 155.6,192.39 156.15,192.69 156.69,193.04 157.24,193.43 157.78,193.86 158.33,194.33 158.88,194.84 159.42,195.39 159.97,195.98 160.51,196.6 161.06,197.27 161.61,197.97 162.15,198.71 162.7,199.48 163.25,200.29 163.79,201.13 164.34,202 164.88,202.9 165.43,203.84 165.98,204.8 166.52,205.79 167.07,206.81 167.61,207.85 168.16,208.91 168.71,210 169.25,211.12 169.8,212.25 170.34,213.4 170.89,214.57 171.44,215.76 171.98,216.97 172.53,218.18 173.08,219.42 173.62,220.66 174.17,221.92 174.71,223.18 175.26,224.46 175.81,225.74 176.35,227.02 176.9,228.32 177.44,229.61 177.99,230.91 178.54,232.21 179.08,233.51 179.63,234.81 180.17,236.11 180.72,237.41 181.27,238.7 181.81,239.99 182.36,241.27 182.91,242.54 183.45,243.81 184,245.07 184.54,246.32 185.09,247.56 185.64,248.79 186.18,250 186.73,251.21 187.27,252.4 187.82,253.58 188.37,254.74 188.91,255.89 189.46,257.03 190.01,258.15 190.55,259.25 191.1,260.33 191.64,261.4 192.19,262.45 192.74,263.48 193.28,264.5 193.83,265.5 194.37,266.47 194.92,267.43 195.47,268.37 196.01,269.29 196.56,270.19 197.1,271.07 197.65,271.94 198.2,272.78 198.74,273.6 199.29,274.41 199.84,275.19 200.38,275.95 200.93,276.7 201.47,277.42 202.02,278.13 202.57,278.82 203.11,279.49 203.66,280.14 204.2,280.77 204.75,281.38 205.3,281.98 205.84,282.55 206.39,283.11 206.93,283.65 207.48,284.18 208.03,284.69 208.57,285.18 209.12,285.65 209.67,286.11 210.21,286.56 210.76,286.98 211.3,287.4 211.85,287.8 212.4,288.18 212.94,288.55 213.49,288.91 214.03,289.25 214.58,289.58 215.13,289.9 215.67,290.2 216.22,290.5 216.76,290.78 217.31,291.05 217.86,291.31 218.4,291.56 218.95,291.8 219.5,292.02 220.04,292.24 220.59,292.45 221.13,292.65 221.68,292.84 222.23,293.02 222.77,293.2 223.32,293.36 223.86,293.52 224.41,293.68 224.96,293.82 225.5,293.96 226.05,294.09 226.59,294.21 227.14,294.33 227.69,294.44 228.23,294.55 228.78,294.65 229.33,294.75 229.87,294.84 230.42,294.93 230.96,295.01 231.51,295.09 232.06,295.17 232.6,295.24 233.15,295.3 233.69,295.37 234.24,295.42 234.79,295.48 235.33,295.53 235.88,295.58 236.42,295.63 236.97,295.68 237.52,295.72 238.06,295.76 238.61,295.8 239.16,295.83 239.7,295.86 240.25,295.9 240.79,295.93 241.34,295.95 241.89,295.98 242.43,296 242.98,296.03 243.52,296.05 244.07,296.07 244.62,296.09 245.16,296.1 245.71,296.12 246.25,296.14 246.8,296.15 247.35,296.16 247.89,296.18 248.44,296.19 248.99,296.2 249.53,296.21 250.08,296.22 250.62,296.23 251.17,296.24 251.72,296.25 252.26,296.25 252.81,296.26 253.35,296.27 253.9,296.27 254.45,296.28 254.99,296.28 255.54,296.29 256.08,296.29 256.63,296.3 257.18,296.3 257.72,296.3 258.27,296.31 258.82,296.31 259.36,296.31 259.91,296.31 260.45,296.32 261,296.32" fill="none" stroke="#0505ff" stroke-width="5.0" stroke-linejoin="round" />
<polyline points="43.1,297.07 43.65,297.07 44.19,297.07 44.74,297.07 45.28,297.06 45.83,297.06 46.38,297.06 46.92,297.05 47.47,297.05 48.02,297.05 48.56,297.04 49.11,297.04 49.65,297.03 50.2,297.03 50.75,297.02 51.29,297.01 51.84,297.01 52.38,297 52.93,296.99 53.48,296.98 54.02,296.98 54.57,296.97 55.11,296.96 55.66,296.94 56.21,296.93 56.75,296.92 57.3,296.91 57.85,296.89 58.39,296.88 58.94,296.86 59.48,296.84 60.03,296.82 60.58,296.8 61.12,296.78 61.67,296.76 62.21,296.73 62.76,296.71 63.31,296.68 63.85,296.65 64.4,296.62 64.94,296.58 65.49,296.55 66.04,296.51 66.58,296.47 67.13,296.43 67.68,296.38 68.22,296.34 68.77,296.29 69.31,296.23 69.86,296.18 70.41,296.12 70.95,296.05 71.5,295.99 72.04,295.92 72.59,295.84 73.14,295.76 73.68,295.68 74.23,295.59 74.77,295.5 75.32,295.4 75.87,295.3 76.41,295.19 76.96,295.08 77.51,294.96 78.05,294.84 78.6,294.71 79.14,294.57 79.69,294.42 80.24,294.27 80.78,294.11 81.33,293.94 81.87,293.77 82.42,293.59 82.97,293.39 83.51,293.19 84.06,292.98 84.6,292.77 85.15,292.54 85.7,292.3 86.24,292.05 86.79,291.79 87.34,291.52 87.88,291.23 88.43,290.94 88.97,290.63 89.52,290.32 90.07,289.98 90.61,289.64 91.16,289.28 91.7,288.91 92.25,288.53 92.8,288.13 93.34,287.71 93.89,287.28 94.43,286.84 94.98,286.38 95.53,285.9 96.07,285.41 96.62,284.9 97.17,284.37 97.71,283.83 98.26,283.27 98.8,282.69 99.35,282.09 99.9,281.47 100.44,280.84 100.99,280.19 101.53,279.52 102.08,278.83 102.63,278.12 103.17,277.39 103.72,276.65 104.26,275.88 104.81,275.09 105.36,274.29 105.9,273.46 106.45,272.62 107,271.75 107.54,270.87 108.09,269.96 108.63,269.04 109.18,268.1 109.73,267.14 110.27,266.16 110.82,265.16 111.36,264.14 111.91,263.1 112.46,262.05 113,260.98 113.55,259.89 114.09,258.78 114.64,257.66 115.19,256.52 115.73,255.37 116.28,254.2 116.83,253.02 117.37,251.82 117.92,250.62 118.46,249.4 119.01,248.16 119.56,246.92 120.1,245.67 120.65,244.4 121.19,243.13 121.74,241.85 122.29,240.57 122.83,239.28 123.38,237.98 123.93,236.68 124.47,235.38 125.02,234.07 125.56,232.77 126.11,231.46 126.66,230.16 127.2,228.86 127.75,227.57 128.29,226.27 128.84,224.99 129.39,223.71 129.93,222.44 130.48,221.18 131.02,219.93 131.57,218.7 132.12,217.48 132.66,216.27 133.21,215.08 133.76,213.9 134.3,212.75 134.85,211.61 135.39,210.49 135.94,209.4 136.49,208.33 137.03,207.28 137.58,206.26 138.12,205.27 138.67,204.31 139.22,203.37 139.76,202.46 140.31,201.59 140.85,200.75 141.4,199.94 141.95,199.16 142.49,198.42 143.04,197.72 143.59,197.05 144.13,196.42 144.68,195.83 145.22,195.28 145.77,194.77 146.32,194.29 146.86,193.86 147.41,193.47 147.95,193.13 148.5,192.82 149.05,192.56 149.59,192.34 150.14,192.17 150.68,192.03 151.23,191.95 151.78,191.9 152.32,191.9 152.87,191.95 153.42,192.03 153.96,192.17 154.51,192.34 155.05,192.56 155.6,192.82 156.15,193.13 156.69,193.47 157.24,193.86 157.78,194.29 158.33,194.77 158.88,195.28 159.42,195.83 159.97,196.42 160.51,197.05 161.06,197.72 161.61,198.42 162.15,199.16 162.7,199.94 163.25,200.75 163.79,201.59 164.34,202.46 164.88,203.37 165.43,204.31 165.98,205.27 166.52,206.26 167.07,207.28 167.61,208.33 168.16,209.4 168.71,210.49 169.25,211.61 169.8,212.75 170.34,213.9 170.89,215.08 171.44,216.27 171.98,217.48 172.53,218.7 173.08,219.93 173.62,221.18 174.17,222.44 174.71,223.71 175.26,224.99 175.81,226.27 176.35,227.57 176.9,228.86 177.44,230.16 177.99,231.46 178.54,232.77 179.08,234.07 179.63,235.38 180.17,236.68 180.72,237.98 181.27,239.28 181.81,240.57 182.36,241.85 182.91,243.13 183.45,244.4 184,245.67 184.54,246.92 185.09,248.16 185.64,249.4 186.18,250.62 186.73,251.82 187.27,253.02 187.82,254.2 188.37,255.37 188.91,256.52 189.46,257.66 190.01,258.78 190.55,259.89 191.1,260.98 191.64,262.05 192.19,263.1 192.74,264.14 193.28,265.16 193.83,266.16 194.37,267.14 194.92,268.1 195.47,269.04 196.01,269.96 196.56,270.87 197.1,271.75 197.65,272.62 198.2,273.46 198.74,274.29 199.29,275.09 199.84,275.88 200.38,276.65 200.93,277.39 201.47,278.12 202.02,278.83 202.57,279.52 203.11,280.19 203.66,280.84 204.2,281.47 204.75,282.09 205.3,282.69 205.84,283.27 206.39,283.83 206.93,284.37 207.48,284.9 208.03,285.41 208.57,285.9 209.12,286.38 209.67,286.84 210.21,287.28 210.76,287.71 211.3,288.13 211.85,288.53 212.4,288.91 212.94,289.28 213.49,289.64 214.03,289.98 214.58,290.32 215.13,290.63 215.67,290.94 216.22,291.23 216.76,291.52 217.31,291.79 217.86,292.05 218.4,292.3 218.95,292.54 219.5,292.77 220.04,292.98 220.59,293.19 221.13,293.39 221.68,293.59 222.23,293.77 222.77,293.94 223.32,294.11 223.86,294.27 224.41,294.42 224.96,294.57 225.5,294.71 226.05,294.84 226.59,294.96 227.14,295.08 227.69,295.19 228.23,295.3 228.78,295.4 229.33,295.5 229.87,295.59 230.42,295.68 230.96,295.76 231.51,295.84 232.06,295.92 232.6,295.99 233.15,296.05 233.69,296.12 234.24,296.18 234.79,296.23 235.33,296.29 235.88,296.34 236.42,296.38 236.97,296.43 237.52,296.47 238.06,296.51 238.61,296.55 239.16,296.58 239.7,296.62 240.25,296.65 240.79,296.68 241.34,296.71 241.89,296.73 242.43,296.76 242.98,296.78 243.52,296.8 244.07,296.82 244.62,296.84 245.16,296.86 245.71,296.88 246.25,296.89 246.8,296.91 247.35,296.92 247.89,296.93 248.44,296.94 248.99,296.96 249.53,296.97 250.08,296.98 250.62,296.98 251.17,296.99 251.72,297 252.26,297.01 252.81,297.01 253.35,297.02 253.9,297.03 254.45,297.03 254.99,297.04 255.54,297.04 256.08,297.05 256.63,297.05 257.18,297.05 257.72,297.06 258.27,297.06 258.82,297.06 259.36,297.07 259.91,297.07 260.45,297.07 261,297.07" fill="none" stroke="#ff0000" stroke-width="1.5" stroke-linejoin="round" />
</g>
<rect x="43.1" y="178.5" width="217.9" height="129.5" fill="none" stroke="#000" stroke-width="0.8"/>
<line x1="43.1" y1="308" x2="43.1" y2="311.38" stroke="#000" stroke-width="0.8" />
<text x="28.76" y="322.08" font-size="10.13" fill="#1a1a1a" stroke="#1a1a1a" stroke-width="0.2" textLength="28.75" lengthAdjust="spacingAndGlyphs">−0.25</text>
<line x1="152.05" y1="308" x2="152.05" y2="311.38" stroke="#000" stroke-width="0.8" />
<text x="141.5" y="322.08" font-size="10.13" fill="#1a1a1a" stroke="#1a1a1a" stroke-width="0.2" textLength="21.07" lengthAdjust="spacingAndGlyphs">0.00</text>
<line x1="261" y1="308" x2="261" y2="311.38" stroke="#000" stroke-width="0.8" />
<text x="250.45" y="322.08" font-size="10.13" fill="#1a1a1a" stroke="#1a1a1a" stroke-width="0.2" textLength="20.9" lengthAdjust="spacingAndGlyphs">0.25</text>
<line x1="39.72" y1="189.2" x2="43.1" y2="189.2" stroke="#000" stroke-width="0.8" />
<text x="21.26" y="192.95" font-size="10.13" fill="#1a1a1a" stroke="#1a1a1a" stroke-width="0.2" textLength="14.86" lengthAdjust="spacingAndGlyphs">1.0</text>
<line x1="39.72" y1="243.15" x2="43.1" y2="243.15" stroke="#000" stroke-width="0.8" />
<text x="21.21" y="246.9" font-size="10.13" fill="#1a1a1a" stroke="#1a1a1a" stroke-width="0.2" textLength="14.75" lengthAdjust="spacingAndGlyphs">0.5</text>
<line x1="39.72" y1="297.1" x2="43.1" y2="297.1" stroke="#000" stroke-width="0.8" />
<text x="21.2" y="300.85" font-size="10.13" fill="#1a1a1a" stroke="#1a1a1a" stroke-width="0.2" textLength="14.92" lengthAdjust="spacingAndGlyphs">0.0</text>
<text x="127.39" y="334.7" font-size="10.13" fill="#1a1a1a" stroke="#1a1a1a" stroke-width="0.2" textLength="49.2" lengthAdjust="spacingAndGlyphs">Delay (ps)</text>
<text transform="translate(15.6,243.3) rotate(-90)" x="-35.53" y="0" font-size="10.13" fill="#1a1a1a" stroke="#1a1a1a" stroke-width="0.2" textLength="70.71" lengthAdjust="spacingAndGlyphs">Intensity (a.u.)</text>
<text x="66.39" y="196.3" font-size="11.35" fill="#1a1a1a" stroke="#1a1a1a" stroke-width="0.2" textLength="15.18" lengthAdjust="spacingAndGlyphs">(c)</text>
<rect x="175.5" y="182.5" width="80.5" height="27.5" rx="2" fill="#fff" fill-opacity="0.8" stroke="#ccc" stroke-width="0.8"/>
<circle cx="187.2" cy="189.5" r="2.3" fill="#0000ff" fill-opacity="0.3" stroke="#0000ff" stroke-opacity="0.3" stroke-width="0.8"/>
<line x1="178" y1="202.1" x2="196.3" y2="202.1" stroke="#ff0000" stroke-width="1.5" />
<text x="202.21" y="192.7" font-size="9.13" fill="#1a1a1a" stroke="#1a1a1a" stroke-width="0.2" textLength="40.44" lengthAdjust="spacingAndGlyphs">Exp. data</text>
<text x="202.51" y="205.3" font-size="9.13" fill="#1a1a1a" stroke="#1a1a1a" stroke-width="0.2" textLength="51.44" lengthAdjust="spacingAndGlyphs">Gaussian fit</text>
<text x="183.68" y="235.8" font-size="10.13" fill="#1a1a1a" stroke="#1a1a1a" stroke-width="0.2" textLength="62.91" lengthAdjust="spacingAndGlyphs">1.414x102 fs</text>
<clipPath id="cd"><rect x="322.1" y="179.35" width="214.4" height="126.9"/></clipPath>
<g clip-path="url(#cd)">
<polyline points="321.1,298.43 321.6,298.41 322.1,300.88 322.6,298.19 323.1,305.91 323.6,302.11 324.1,301.87 324.6,301.4 325.1,301.24 325.6,296.92 326.1,299.69 326.6,303.63 327.1,301.62 327.6,297.11 328.1,297.7 328.6,298.12 329.1,302.02 329.6,301.08 330.1,299.48 330.6,305.8 331.1,300.52 331.6,303.23 332.1,297.84 332.6,305.75 333.1,299.46 333.6,297.91 334.1,303.03 334.6,293.79 335.1,297.9 335.6,301.77 336.1,299.23 336.6,306.98 337.1,300.99 337.6,298.01 338.1,303.97 338.6,302.68 339.1,298.42 339.6,301.5 340.1,302.79 340.6,297.26 341.1,299.61 341.6,298.48 342.1,303.62 342.6,301.95 343.1,298.47 343.6,300.95 344.1,300.96 344.6,302.6 345.1,302.28 345.6,297.42 346.1,305.03 346.6,298.11 347.1,302.26 347.6,297.28 348.1,301.95 348.6,297.4 349.1,300.52 349.6,302.5 350.1,295.2 350.6,299.5 351.1,299.42 351.6,301.35 352.1,303.77 352.6,299.78 353.1,303.96 353.6,299.35 354.1,299.83 354.6,302.17 355.1,298.48 355.6,303.76 356.1,301.65 356.6,298.49 357.1,302.13 357.6,299.18 358.1,300.03 358.6,297.36 359.1,296.97 359.6,299.09 360.1,298.4 360.6,303.29 361.1,299.18 361.6,298.09 362.1,301.93 362.6,300.54 363.1,296.29 363.6,297.23 364.1,302.76 364.6,301.93 365.1,302.43 365.6,301.75 366.1,299.87 366.6,297.41 367.1,297.5 367.6,302.66 368.1,296.99 368.6,302.03 369.1,298.29 369.6,304.51 370.1,301.9 370.6,305.51 371.1,298.01 371.6,298.24 372.1,304.73 372.6,298.98 373.1,303.37 373.6,301.09 374.1,300.54 374.6,302.09 375.1,295.09 375.6,303.16 376.1,301.5 376.6,304.62 377.1,306.92 377.6,304.07 378.1,302.51 378.6,297.46 379.1,297.76 379.6,299.62 380.1,301.43 380.6,299.56 381.1,298 381.6,301.2 382.1,298.52 382.6,301.96 383.1,296.37 383.6,298.98 384.1,301.01 384.6,299.36 385.1,299.31 385.6,305.37 386.1,302.39 386.6,304.18 387.1,302.41 387.6,300.76 388.1,303.86 388.6,303.82 389.1,300.13 389.6,297.79 390.1,302.44 390.6,301.64 391.1,301.79 391.6,299.45 392.1,298.59 392.6,297.36 393.1,298.89 393.6,299.23 394.1,302.51 394.6,298.28 395.1,301.39 395.6,297.91 396.1,296.39 396.6,299.08 397.1,296.89 397.6,302.77 398.1,300.39 398.6,305.96 399.1,300.57 399.6,300.75 400.1,301.22 400.6,298.21 401.1,302.48 401.6,300.51 402.1,300.51 402.6,300.15 403.1,299.04 403.6,299.45 404.1,300.46 404.6,301.09 405.1,300 405.6,298.27 406.1,300.55 406.6,298.03 407.1,299.66 407.6,295.13 408.1,298.91 408.6,292.18 409.1,299.33 409.6,298.64 410.1,294.04 410.6,299.53 411.1,300.06 411.6,298.56 412.1,293.91 412.6,299.73 413.1,296.09 413.6,295.86 414.1,297.29 414.6,297.08 415.1,297.75 415.6,296.38 416.1,297.03 416.6,292.7 417.1,291.59 417.6,294.92 418.1,294.08 418.6,297.31 419.1,294.28 419.6,292.23 420.1,291.99 420.6,291.91 421.1,290.14 421.6,291.16 422.1,291.52 422.6,287.75 423.1,292.73 423.6,290.96 424.1,289.8 424.6,288.95 425.1,287.98 425.6,286.47 426.1,285.9 426.6,283.2 427.1,280.22 427.6,275.9 428.1,270.69 428.6,250.72 429.1,213.41 429.3,196.48 429.6,221.87 430.1,256.68 430.6,271.73 431.1,276.94 431.6,280.82 432.1,283.8 432.6,286.18 433.1,285.33 433.6,286.61 434.1,285.93 434.6,288.25 435.1,289.04 435.6,290.19 436.1,290.21 436.6,293.89 437.1,291.94 437.6,291.97 438.1,290.36 438.6,293.9 439.1,292.76 439.6,289.87 440.1,294.78 440.6,292.51 441.1,295.53 441.6,295.07 442.1,294.36 442.6,293.92 443.1,296.94 443.6,298.33 444.1,293.82 444.6,296.75 445.1,295.96 445.6,294.34 446.1,296.47 446.6,298.62 447.1,298.56 447.6,301.47 448.1,294.53 448.6,297.29 449.1,299.09 449.6,295.65 450.1,298.1 450.6,299.5 451.1,298.95 451.6,298.55 452.1,297.17 452.6,301.8 453.1,299.55 453.6,301.5 454.1,299.44 454.6,298.57 455.1,302.58 455.6,301.56 456.1,304.3 456.6,298.7 457.1,297.32 457.6,301 458.1,300.51 458.6,300.08 459.1,295.99 459.6,294.86 460.1,302.74 460.6,302.71 461.1,297.78 461.6,301.02 462.1,297.22 462.6,302.44 463.1,298.61 463.6,299.43 464.1,301.26 464.6,293.93 465.1,302.57 465.6,297.72 466.1,300.09 466.6,301.88 467.1,298.33 467.6,301.96 468.1,298.6 468.6,303.68 469.1,296.92 469.6,297.25 470.1,299.47 470.6,299.83 471.1,299.65 471.6,304.02 472.1,302.2 472.6,306.22 473.1,303.7 473.6,303.07 474.1,304.22 474.6,298.16 475.1,302.13 475.6,298.27 476.1,305.25 476.6,303.1 477.1,304.25 477.6,292.6 478.1,298.33 478.6,302.15 479.1,297.43 479.6,303.71 480.1,303.3 480.6,300.27 481.1,299.34 481.6,297.1 482.1,302.27 482.6,295.5 483.1,300.37 483.6,303.12 484.1,299 484.6,296.97 485.1,300.17 485.6,305.46 486.1,298.41 486.6,299.57 487.1,301.11 487.6,299.67 488.1,303.34 488.6,302.9 489.1,300.88 489.6,303.31 490.1,295.2 490.6,304.21 491.1,303.42 491.6,297.68 492.1,300.24 492.6,303.53 493.1,299.3 493.6,296.94 494.1,297.7 494.6,298.48 495.1,302.6 495.6,295.87 496.1,300.26 496.6,304.74 497.1,299.35 497.6,300.83 498.1,300.82 498.6,298.98 499.1,305.25 499.6,303.87 500.1,297 500.6,302.94 501.1,303.4 501.6,305.5 502.1,302.81 502.6,300.48 503.1,303.47 503.6,302.51 504.1,303.39 504.6,303.71 505.1,298.54 505.6,297.2 506.1,297.56 506.6,301.56 507.1,303.2 507.6,301.58 508.1,300.8 508.6,302.14 509.1,296.46 509.6,298.93 510.1,292.81 510.6,301.3 511.1,303.58 511.6,297.59 512.1,297.8 512.6,303.2 513.1,303.88 513.6,299.62 514.1,298.3 514.6,297.21 515.1,306.48 515.6,304.14 516.1,301.73 516.6,300.56 517.1,298.65 517.6,300.51 518.1,300.85 518.6,303.58 519.1,295.2 519.6,300.29 520.1,294.08 520.6,299.87 521.1,304.92 521.6,302.4 522.1,302.31 522.6,301.45 523.1,304.34 523.6,299.23 524.1,298.29 524.6,301.96 525.1,297.6 525.6,305.37 526.1,302.87 526.6,296.02 527.1,301.72 527.6,303.84 528.1,296.76 528.6,298.16 529.1,303.7 529.6,304.16 530.1,300.85 530.6,304.62 531.1,297.37 531.6,298.06 532.1,298.19 532.6,301.84 533.1,298.58 533.6,301.67 534.1,301.4 534.6,303.07 535.1,304.03 535.6,299.54 536.1,304.09 536.6,297.24 537.1,300.44" fill="none" stroke="#0000ff" stroke-width="1.6" stroke-linejoin="round" />
</g>
<rect x="322.1" y="179.35" width="214.4" height="126.9" fill="none" stroke="#000" stroke-width="0.8"/>
<line x1="322.1" y1="306.25" x2="322.1" y2="309.63" stroke="#000" stroke-width="0.8" />
<text x="309.29" y="320.33" font-size="10.13" fill="#1a1a1a" stroke="#1a1a1a" stroke-width="0.2" textLength="25.85" lengthAdjust="spacingAndGlyphs">−250</text>
<line x1="429.3" y1="306.25" x2="429.3" y2="309.63" stroke="#000" stroke-width="0.8" />
<text x="426.45" y="320.33" font-size="10.13" fill="#1a1a1a" stroke="#1a1a1a" stroke-width="0.2" textLength="5.68" lengthAdjust="spacingAndGlyphs">0</text>
<line x1="536.5" y1="306.25" x2="536.5" y2="309.63" stroke="#000" stroke-width="0.8" />
<text x="527.45" y="320.33" font-size="10.13" fill="#1a1a1a" stroke="#1a1a1a" stroke-width="0.2" textLength="18.04" lengthAdjust="spacingAndGlyphs">250</text>
<line x1="318.72" y1="194.1" x2="322.1" y2="194.1" stroke="#000" stroke-width="0.8" />
<text x="309.43" y="197.85" font-size="10.13" fill="#1a1a1a" stroke="#1a1a1a" stroke-width="0.2" textLength="5.68" lengthAdjust="spacingAndGlyphs">0</text>
<line x1="318.72" y1="223.9" x2="322.1" y2="223.9" stroke="#000" stroke-width="0.8" />
<text x="295.42" y="227.65" font-size="10.13" fill="#1a1a1a" stroke="#1a1a1a" stroke-width="0.2" textLength="19.76" lengthAdjust="spacingAndGlyphs">−20</text>
<line x1="318.72" y1="253.7" x2="322.1" y2="253.7" stroke="#000" stroke-width="0.8" />
<text x="295.42" y="257.45" font-size="10.13" fill="#1a1a1a" stroke="#1a1a1a" stroke-width="0.2" textLength="19.76" lengthAdjust="spacingAndGlyphs">−40</text>
<line x1="318.72" y1="283.5" x2="322.1" y2="283.5" stroke="#000" stroke-width="0.8" />
<text x="295.42" y="287.25" font-size="10.13" fill="#1a1a1a" stroke="#1a1a1a" stroke-width="0.2" textLength="19.76" lengthAdjust="spacingAndGlyphs">−60</text>
<text x="378.02" y="332.8" font-size="10.13" fill="#1a1a1a" stroke="#1a1a1a" stroke-width="0.2" textLength="66.54" lengthAdjust="spacingAndGlyphs">Frequency (f-f</text>
<text x="445.19" y="334.6" font-size="7.1" fill="#1a1a1a" stroke="#1a1a1a" stroke-width="0.2" textLength="3.78" lengthAdjust="spacingAndGlyphs">1</text>
<text x="450.22" y="332.8" font-size="10.13" fill="#1a1a1a" stroke="#1a1a1a" stroke-width="0.2" textLength="31.41" lengthAdjust="spacingAndGlyphs">) (kHz)</text>
<text transform="translate(288.6,242.6) rotate(-90)" x="-32.82" y="0" font-size="10.13" fill="#1a1a1a" stroke="#1a1a1a" stroke-width="0.2" textLength="65.3" lengthAdjust="spacingAndGlyphs">Intensity (dB)</text>
<text x="340.07" y="196.9" font-size="11.35" fill="#1a1a1a" stroke="#1a1a1a" stroke-width="0.2" textLength="16.18" lengthAdjust="spacingAndGlyphs">(d)</text>
<text x="387.04" y="245.4" font-size="10.13" fill="#1a1a1a" stroke="#1a1a1a" stroke-width="0.2" textLength="35.61" lengthAdjust="spacingAndGlyphs">&gt;60 dB</text>
<defs><linearGradient id="hg" gradientUnits="userSpaceOnUse" x1="46.4" y1="0" x2="214.8" y2="0">
<stop offset="0.0000" stop-color="#3d4e8a"/>
<stop offset="0.0059" stop-color="#3c4f8a"/>
<stop offset="0.0118" stop-color="#3c508b"/>
<stop offset="0.0178" stop-color="#3b518b"/>
<stop offset="0.0237" stop-color="#3b528b"/>
<stop offset="0.0296" stop-color="#3a548c"/>
<stop offset="0.0355" stop-color="#39558c"/>
<stop offset="0.0414" stop-color="#38598c"/>
<stop offset="0.0473" stop-color="#375b8d"/>
<stop offset="0.0533" stop-color="#355f8d"/>
<stop offset="0.0592" stop-color="#33638d"/>
<stop offset="0.0651" stop-color="#31688e"/>
<stop offset="0.0710" stop-color="#2f6c8e"/>
<stop offset="0.0769" stop-color="#2d708e"/>
<stop offset="0.0828" stop-color="#2c738e"/>
<stop offset="0.0888" stop-color="#2a788e"/>
<stop offset="0.0947" stop-color="#287c8e"/>
<stop offset="0.1006" stop-color="#26818e"/>
<stop offset="0.1065" stop-color="#25858e"/>
<stop offset="0.1124" stop-color="#228b8d"/>
<stop offset="0.1183" stop-color="#218f8d"/>
<stop offset="0.1243" stop-color="#20938c"/>
<stop offset="0.1302" stop-color="#1f988b"/>
<stop offset="0.1361" stop-color="#1e9c89"/>
<stop offset="0.1420" stop-color="#1fa088"/>
<stop offset="0.1479" stop-color="#20a386"/>
<stop offset="0.1538" stop-color="#21a685"/>
<stop offset="0.1598" stop-color="#24aa83"/>
<stop offset="0.1657" stop-color="#26ad81"/>
<stop offset="0.1716" stop-color="#2ab07f"/>
<stop offset="0.1775" stop-color="#2fb47c"/>
<stop offset="0.1834" stop-color="#34b679"/>
<stop offset="0.1893" stop-color="#3aba76"/>
<stop offset="0.1953" stop-color="#40bd72"/>
<stop offset="0.2012" stop-color="#44bf70"/>
<stop offset="0.2071" stop-color="#4ac16d"/>
<stop offset="0.2130" stop-color="#4ec36b"/>
<stop offset="0.2189" stop-color="#52c569"/>
<stop offset="0.2249" stop-color="#56c667"/>
<stop offset="0.2308" stop-color="#5ac864"/>
<stop offset="0.2367" stop-color="#5ec962"/>
<stop offset="0.2426" stop-color="#63cb5f"/>
<stop offset="0.2485" stop-color="#67cc5c"/>
<stop offset="0.2544" stop-color="#6ccd5a"/>
<stop offset="0.2604" stop-color="#70cf57"/>
<stop offset="0.2663" stop-color="#73d056"/>
<stop offset="0.2722" stop-color="#77d153"/>
<stop offset="0.2781" stop-color="#7cd250"/>
<stop offset="0.2840" stop-color="#81d34d"/>
<stop offset="0.2899" stop-color="#84d44b"/>
<stop offset="0.2959" stop-color="#89d548"/>
<stop offset="0.3018" stop-color="#8bd646"/>
<stop offset="0.3077" stop-color="#8ed645"/>
<stop offset="0.3136" stop-color="#93d741"/>
<stop offset="0.3195" stop-color="#95d840"/>
<stop offset="0.3254" stop-color="#98d83e"/>
<stop offset="0.3314" stop-color="#9bd93c"/>
<stop offset="0.3373" stop-color="#a0da39"/>
<stop offset="0.3432" stop-color="#a2da37"/>
<stop offset="0.3491" stop-color="#a5db36"/>
<stop offset="0.3550" stop-color="#a8db34"/>
<stop offset="0.3609" stop-color="#addc30"/>
<stop offset="0.3669" stop-color="#b0dd2f"/>
<stop offset="0.3728" stop-color="#b5de2b"/>
<stop offset="0.3787" stop-color="#bade28"/>
<stop offset="0.3846" stop-color="#bddf26"/>
<stop offset="0.3905" stop-color="#c2df23"/>
<stop offset="0.3964" stop-color="#c5e021"/>
<stop offset="0.4024" stop-color="#cae11f"/>
<stop offset="0.4083" stop-color="#cde11d"/>
<stop offset="0.4142" stop-color="#d2e21b"/>
<stop offset="0.4201" stop-color="#d5e21a"/>
<stop offset="0.4260" stop-color="#dae319"/>
<stop offset="0.4320" stop-color="#dde318"/>
<stop offset="0.4379" stop-color="#e2e418"/>
<stop offset="0.4438" stop-color="#e5e419"/>
<stop offset="0.4497" stop-color="#e7e419"/>
<stop offset="0.4556" stop-color="#eae51a"/>
<stop offset="0.4615" stop-color="#efe51c"/>
<stop offset="0.4675" stop-color="#f1e51d"/>
<stop offset="0.4734" stop-color="#f1e51d"/>
<stop offset="0.4793" stop-color="#f4e61e"/>
<stop offset="0.4852" stop-color="#f6e620"/>
<stop offset="0.4911" stop-color="#f8e621"/>
<stop offset="0.4970" stop-color="#fbe723"/>
<stop offset="0.5030" stop-color="#fbe723"/>
<stop offset="0.5089" stop-color="#fde725"/>
<stop offset="0.5148" stop-color="#fde725"/>
<stop offset="0.5207" stop-color="#fde725"/>
<stop offset="0.5266" stop-color="#fde725"/>
<stop offset="0.5325" stop-color="#fde725"/>
<stop offset="0.5385" stop-color="#fde725"/>
<stop offset="0.5444" stop-color="#fde725"/>
<stop offset="0.5503" stop-color="#fde725"/>
<stop offset="0.5562" stop-color="#fde725"/>
<stop offset="0.5621" stop-color="#fde725"/>
<stop offset="0.5680" stop-color="#fde725"/>
<stop offset="0.5740" stop-color="#fde725"/>
<stop offset="0.5799" stop-color="#fde725"/>
<stop offset="0.5858" stop-color="#fde725"/>
<stop offset="0.5917" stop-color="#fde725"/>
<stop offset="0.5976" stop-color="#fde725"/>
<stop offset="0.6036" stop-color="#fde725"/>
<stop offset="0.6095" stop-color="#fde725"/>
<stop offset="0.6154" stop-color="#fde725"/>
<stop offset="0.6213" stop-color="#fde725"/>
<stop offset="0.6272" stop-color="#fde725"/>
<stop offset="0.6331" stop-color="#fbe723"/>
<stop offset="0.6391" stop-color="#f8e621"/>
<stop offset="0.6450" stop-color="#f6e620"/>
<stop offset="0.6509" stop-color="#f4e61e"/>
<stop offset="0.6568" stop-color="#efe51c"/>
<stop offset="0.6627" stop-color="#ece51b"/>
<stop offset="0.6686" stop-color="#e7e419"/>
<stop offset="0.6746" stop-color="#e5e419"/>
<stop offset="0.6805" stop-color="#dfe318"/>
<stop offset="0.6864" stop-color="#d8e219"/>
<stop offset="0.6923" stop-color="#d2e21b"/>
<stop offset="0.6982" stop-color="#cae11f"/>
<stop offset="0.7041" stop-color="#c5e021"/>
<stop offset="0.7101" stop-color="#bddf26"/>
<stop offset="0.7160" stop-color="#b5de2b"/>
<stop offset="0.7219" stop-color="#aadc32"/>
<stop offset="0.7278" stop-color="#a2da37"/>
<stop offset="0.7337" stop-color="#98d83e"/>
<stop offset="0.7396" stop-color="#8ed645"/>
<stop offset="0.7456" stop-color="#86d549"/>
<stop offset="0.7515" stop-color="#7cd250"/>
<stop offset="0.7574" stop-color="#75d054"/>
<stop offset="0.7633" stop-color="#6ccd5a"/>
<stop offset="0.7692" stop-color="#63cb5f"/>
<stop offset="0.7751" stop-color="#5ac864"/>
<stop offset="0.7811" stop-color="#52c569"/>
<stop offset="0.7870" stop-color="#4ac16d"/>
<stop offset="0.7929" stop-color="#42be71"/>
<stop offset="0.7988" stop-color="#3bbb75"/>
<stop offset="0.8047" stop-color="#37b878"/>
<stop offset="0.8107" stop-color="#31b57b"/>
<stop offset="0.8166" stop-color="#2eb37c"/>
<stop offset="0.8225" stop-color="#2ab07f"/>
<stop offset="0.8284" stop-color="#27ad81"/>
<stop offset="0.8343" stop-color="#24aa83"/>
<stop offset="0.8402" stop-color="#22a785"/>
<stop offset="0.8462" stop-color="#20a386"/>
<stop offset="0.8521" stop-color="#1fa188"/>
<stop offset="0.8580" stop-color="#1e9d89"/>
<stop offset="0.8639" stop-color="#1f998a"/>
<stop offset="0.8698" stop-color="#1f948c"/>
<stop offset="0.8757" stop-color="#21908d"/>
<stop offset="0.8817" stop-color="#228b8d"/>
<stop offset="0.8876" stop-color="#24878e"/>
<stop offset="0.8935" stop-color="#25838e"/>
<stop offset="0.8994" stop-color="#27808e"/>
<stop offset="0.9053" stop-color="#287c8e"/>
<stop offset="0.9112" stop-color="#29798e"/>
<stop offset="0.9172" stop-color="#2b758e"/>
<stop offset="0.9231" stop-color="#2c718e"/>
<stop offset="0.9290" stop-color="#2e6d8e"/>
<stop offset="0.9349" stop-color="#30698e"/>
<stop offset="0.9408" stop-color="#32658e"/>
<stop offset="0.9467" stop-color="#34608d"/>
<stop offset="0.9527" stop-color="#375b8d"/>
<stop offset="0.9586" stop-color="#39558c"/>
<stop offset="0.9645" stop-color="#3c508b"/>
<stop offset="0.9704" stop-color="#3e4a89"/>
<stop offset="0.9763" stop-color="#404588"/>
<stop offset="0.9822" stop-color="#423f85"/>
<stop offset="0.9882" stop-color="#443983"/>
<stop offset="0.9941" stop-color="#46337f"/>
<stop offset="1.0000" stop-color="#472e7c"/>
</linearGradient></defs>
<rect x="46.4" y="350.4" width="168.4" height="128.7" fill="url(#hg)"/>
<rect x="46.4" y="350.4" width="168.4" height="128.7" fill="none" stroke="#000" stroke-width="0.8"/>
<line x1="62.36" y1="479.1" x2="62.36" y2="482.48" stroke="#000" stroke-width="0.8" />
<text x="50.33" y="493.18" font-size="10.13" fill="#1a1a1a" stroke="#1a1a1a" stroke-width="0.2" textLength="24.11" lengthAdjust="spacingAndGlyphs">1510</text>
<line x1="111.05" y1="479.1" x2="111.05" y2="482.48" stroke="#000" stroke-width="0.8" />
<text x="99.02" y="493.18" font-size="10.13" fill="#1a1a1a" stroke="#1a1a1a" stroke-width="0.2" textLength="24.11" lengthAdjust="spacingAndGlyphs">1540</text>
<line x1="159.74" y1="479.1" x2="159.74" y2="482.48" stroke="#000" stroke-width="0.8" />
<text x="147.71" y="493.18" font-size="10.13" fill="#1a1a1a" stroke="#1a1a1a" stroke-width="0.2" textLength="24.11" lengthAdjust="spacingAndGlyphs">1570</text>
<line x1="208.43" y1="479.1" x2="208.43" y2="482.48" stroke="#000" stroke-width="0.8" />
<text x="196.4" y="493.18" font-size="10.13" fill="#1a1a1a" stroke="#1a1a1a" stroke-width="0.2" textLength="24.11" lengthAdjust="spacingAndGlyphs">1600</text>
<line x1="43.02" y1="479" x2="46.4" y2="479" stroke="#000" stroke-width="0.8" />
<text x="33.73" y="482.75" font-size="10.13" fill="#1a1a1a" stroke="#1a1a1a" stroke-width="0.2" textLength="5.68" lengthAdjust="spacingAndGlyphs">0</text>
<line x1="43.02" y1="437.54" x2="46.4" y2="437.54" stroke="#000" stroke-width="0.8" />
<text x="27.57" y="441.29" font-size="10.13" fill="#1a1a1a" stroke="#1a1a1a" stroke-width="0.2" textLength="11.88" lengthAdjust="spacingAndGlyphs">80</text>
<line x1="43.02" y1="396.07" x2="46.4" y2="396.07" stroke="#000" stroke-width="0.8" />
<text x="21.49" y="399.82" font-size="10.13" fill="#1a1a1a" stroke="#1a1a1a" stroke-width="0.2" textLength="17.94" lengthAdjust="spacingAndGlyphs">160</text>
<line x1="43.02" y1="354.61" x2="46.4" y2="354.61" stroke="#000" stroke-width="0.8" />
<text x="21.39" y="358.36" font-size="10.13" fill="#1a1a1a" stroke="#1a1a1a" stroke-width="0.2" textLength="18.04" lengthAdjust="spacingAndGlyphs">240</text>
<text x="89.18" y="506" font-size="10.13" fill="#1a1a1a" stroke="#1a1a1a" stroke-width="0.2" textLength="82.92" lengthAdjust="spacingAndGlyphs">Wavelength (nm)</text>
<text transform="translate(15.6,414.7) rotate(-90)" x="-28" y="0" font-size="10.13" fill="#1a1a1a" stroke="#1a1a1a" stroke-width="0.2" textLength="56.42" lengthAdjust="spacingAndGlyphs">Time (hour)</text>
<text x="66.39" y="366.9" font-size="11.35" fill="#fff" stroke="#fff" stroke-width="0.2" textLength="15.92" lengthAdjust="spacingAndGlyphs">(e)</text>
<defs><linearGradient id="cbg" x1="0" y1="0" x2="0" y2="1">
<stop offset="0" stop-color="#fde725"/>
<stop offset="0.03" stop-color="#efe51c"/>
<stop offset="0.05" stop-color="#dfe318"/>
<stop offset="0.07" stop-color="#cde11d"/>
<stop offset="0.1" stop-color="#bddf26"/>
<stop offset="0.12" stop-color="#addc30"/>
<stop offset="0.15" stop-color="#9bd93c"/>
<stop offset="0.17" stop-color="#8bd646"/>
<stop offset="0.2" stop-color="#7ad151"/>
<stop offset="0.23" stop-color="#6ccd5a"/>
<stop offset="0.25" stop-color="#5ec962"/>
<stop offset="0.28" stop-color="#50c46a"/>
<stop offset="0.3" stop-color="#44bf70"/>
<stop offset="0.33" stop-color="#38b977"/>
<stop offset="0.35" stop-color="#2fb47c"/>
<stop offset="0.38" stop-color="#28ae80"/>
<stop offset="0.4" stop-color="#22a884"/>
<stop offset="0.42" stop-color="#1fa287"/>
<stop offset="0.45" stop-color="#1e9c89"/>
<stop offset="0.47" stop-color="#1f968b"/>
<stop offset="0.5" stop-color="#21918c"/>
<stop offset="0.53" stop-color="#238a8d"/>
<stop offset="0.55" stop-color="#25848e"/>
<stop offset="0.57" stop-color="#277e8e"/>
<stop offset="0.6" stop-color="#2a788e"/>
<stop offset="0.62" stop-color="#2c728e"/>
<stop offset="0.65" stop-color="#2f6c8e"/>
<stop offset="0.68" stop-color="#31668e"/>
<stop offset="0.7" stop-color="#355f8d"/>
<stop offset="0.72" stop-color="#38598c"/>
<stop offset="0.75" stop-color="#3b528b"/>
<stop offset="0.78" stop-color="#3e4a89"/>
<stop offset="0.8" stop-color="#414487"/>
<stop offset="0.82" stop-color="#443b84"/>
<stop offset="0.85" stop-color="#463480"/>
<stop offset="0.88" stop-color="#472d7b"/>
<stop offset="0.9" stop-color="#482475"/>
<stop offset="0.93" stop-color="#481c6e"/>
<stop offset="0.95" stop-color="#471365"/>
<stop offset="0.97" stop-color="#460a5d"/>
<stop offset="1" stop-color="#440154"/>
</linearGradient></defs>
<rect x="225.3" y="350.4" width="6.7" height="128.7" fill="url(#cbg)"/>
<rect x="225.3" y="350.4" width="6.7" height="128.7" fill="none" stroke="#000" stroke-width="0.8"/>
<line x1="232" y1="350.8" x2="235.38" y2="350.8" stroke="#000" stroke-width="0.8" />
<text x="238.97" y="354.55" font-size="10.13" fill="#1a1a1a" stroke="#1a1a1a" stroke-width="0.2" textLength="5.68" lengthAdjust="spacingAndGlyphs">0</text>
<line x1="232" y1="388.53" x2="235.38" y2="388.53" stroke="#000" stroke-width="0.8" />
<text x="239.18" y="392.28" font-size="10.13" fill="#1a1a1a" stroke="#1a1a1a" stroke-width="0.2" textLength="19.76" lengthAdjust="spacingAndGlyphs">−10</text>
<line x1="232" y1="426.26" x2="235.38" y2="426.26" stroke="#000" stroke-width="0.8" />
<text x="239.18" y="430.01" font-size="10.13" fill="#1a1a1a" stroke="#1a1a1a" stroke-width="0.2" textLength="19.76" lengthAdjust="spacingAndGlyphs">−20</text>
<line x1="232" y1="463.99" x2="235.38" y2="463.99" stroke="#000" stroke-width="0.8" />
<text x="239.18" y="467.74" font-size="10.13" fill="#1a1a1a" stroke="#1a1a1a" stroke-width="0.2" textLength="19.76" lengthAdjust="spacingAndGlyphs">−30</text>
<text transform="translate(269.2,414.7) rotate(-90)" x="-32.82" y="0" font-size="10.13" fill="#1a1a1a" stroke="#1a1a1a" stroke-width="0.2" textLength="65.3" lengthAdjust="spacingAndGlyphs">Intensity (dB)</text>
<clipPath id="cf"><rect x="321.9" y="350.25" width="220.6" height="129.05"/></clipPath>
<g clip-path="url(#cf)">
<polyline points="321.3,450.18 321.5,446.18 321.7,457.55 321.9,445.55 322.1,451.52 322.3,454.09 322.5,454.08 322.7,455.03 322.9,452.06 323.1,448.41 323.3,449.25 323.5,449.05 323.7,457.03 323.9,456.58 324.1,445.88 324.3,447.86 324.5,443.7 324.7,447.01 324.9,454.61 325.1,446.73 325.3,448.95 325.5,450.34 325.7,453.84 325.9,451.02 326.1,451.51 326.3,447.97 326.5,450.56 326.7,445.6 326.9,453.55 327.1,449.32 327.3,449.21 327.5,453.78 327.7,454.83 327.9,447.41 328.1,449.06 328.3,451.32 328.5,449.43 328.7,452.99 328.9,449.9 329.1,452.69 329.3,450.01 329.5,447.33 329.7,451.7 329.9,447.76 330.1,453.89 330.3,451.42 330.5,454.85 330.7,450.74 330.9,450.13 331.1,450.97 331.3,451.16 331.5,446.09 331.7,445.82 331.9,453.96 332.1,446.57 332.3,455.38 332.5,452.31 332.7,450.58 332.9,449.68 333.1,453.08 333.3,452.07 333.5,449.67 333.7,451.87 333.9,451.67 334.1,447.86 334.3,447.08 334.5,449.86 334.7,449.6 334.9,449.66 335.1,450.82 335.3,450.92 335.5,452.29 335.7,447.69 335.9,449.6 336.1,449.69 336.3,448.76 336.5,447.86 336.7,445.54 336.9,449.81 337.1,450.06 337.3,448.5 337.5,451 337.7,445.79 337.9,446.58 338.1,447.08 338.3,448.93 338.5,446.86 338.7,446.09 338.9,447.27 339.1,448.94 339.3,451.95 339.5,446.05 339.7,448.78 339.9,449.7 340.1,445.91 340.3,446.96 340.5,450.44 340.7,447.59 340.9,447.78 341.1,445.15 341.3,450.49 341.5,447.41 341.7,446.72 341.9,443.71 342.1,447.88 342.3,450.74 342.5,447.76 342.7,444.75 342.9,443.61 343.1,441.92 343.3,443.69 343.5,445.14 343.7,442.34 343.9,443.23 344.1,443.08 344.3,442.36 344.5,440.34 344.7,442.63 344.9,442.32 345.1,440.76 345.3,440.37 345.5,440.76 345.7,440.39 345.9,438.79 346.1,437.6 346.3,437.81 346.5,437.49 346.7,436.77 346.9,438.53 347.1,437.76 347.3,436.88 347.5,436.69 347.7,436.16 347.9,435.37 348.1,435.38 348.3,434.73 348.5,434.59 348.7,433.97 348.9,433.42 349.1,433.09 349.3,432.7 349.5,432.31 349.7,431.91 349.9,431.52 350.1,431.12 350.3,430.73 350.5,430.33 350.7,429.93 350.9,429.54 351.1,429.14 351.3,428.75 351.5,428.35 351.7,427.96 351.9,427.57 352.1,427.18 352.3,426.79 352.5,426.41 352.7,426.02 352.9,425.64 353.1,425.25 353.3,424.86 353.5,424.48 353.7,424.09 353.9,423.71 354.1,423.32 354.3,422.94 354.5,422.56 354.7,422.18 354.9,421.81 355.1,421.43 355.3,421.06 355.5,420.7 355.7,420.34 355.9,419.98 356.1,419.63 356.3,419.28 356.5,418.94 356.7,418.61 356.9,418.28 357.1,417.96 357.3,417.64 357.5,417.32 357.7,417.01 357.9,416.7 358.1,416.39 358.3,416.09 358.5,415.78 358.7,415.48 358.9,415.17 359.1,414.87 359.3,414.56 359.5,414.25 359.7,413.94 359.9,413.63 360.1,413.31 360.3,412.99 360.5,412.66 360.7,412.33 360.9,411.99 361.1,411.66 361.3,411.32 361.5,410.98 361.7,410.64 361.9,410.29 362.1,409.95 362.3,409.61 362.5,409.27 362.7,408.93 362.9,408.59 363.1,408.25 363.3,407.9 363.5,407.55 363.7,407.21 363.9,406.86 364.1,406.51 364.3,406.17 364.5,405.82 364.7,405.48 364.9,405.13 365.1,404.8 365.3,404.46 365.5,404.13 365.7,403.8 365.9,403.47 366.1,403.14 366.3,402.81 366.5,402.48 366.7,402.15 366.9,401.82 367.1,401.5 367.3,401.18 367.5,400.86 367.7,400.55 367.9,400.25 368.1,399.95 368.3,399.65 368.5,399.37 368.7,399.09 368.9,398.81 369.1,398.54 369.3,398.27 369.5,398 369.7,397.74 369.9,397.48 370.1,397.22 370.3,396.97 370.5,396.72 370.7,396.48 370.9,396.23 371.1,395.99 371.3,395.76 371.5,395.52 371.7,395.29 371.9,395.06 372.1,394.83 372.3,394.6 372.5,394.38 372.7,394.16 372.9,393.95 373.1,393.74 373.3,393.53 373.5,393.33 373.7,393.13 373.9,392.94 374.1,392.76 374.3,392.58 374.5,392.41 374.7,392.23 374.9,392.07 375.1,391.91 375.3,391.75 375.5,391.59 375.7,391.44 375.9,391.29 376.1,391.14 376.3,391 376.5,390.85 376.7,390.71 376.9,390.58 377.1,390.44 377.3,390.31 377.5,390.18 377.7,390.05 377.9,389.92 378.1,389.79 378.3,389.67 378.5,389.54 378.7,389.42 378.9,389.3 379.1,389.18 379.3,389.06 379.5,388.95 379.7,388.84 379.9,388.72 380.1,388.62 380.3,388.51 380.5,388.4 380.7,388.3 380.9,388.2 381.1,388.1 381.3,388.01 381.5,387.91 381.7,387.82 381.9,387.73 382.1,387.65 382.3,387.56 382.5,387.48 382.7,387.4 382.9,387.32 383.1,387.25 383.3,387.17 383.5,387.09 383.7,387.02 383.9,386.94 384.1,386.87 384.3,386.79 384.5,386.72 384.7,386.64 384.9,386.56 385.1,386.48 385.3,386.4 385.5,386.32 385.7,386.24 385.9,386.16 386.1,386.08 386.3,386 386.5,385.91 386.7,385.83 386.9,385.75 387.1,385.67 387.3,385.58 387.5,385.5 387.7,385.41 387.9,385.33 388.1,385.24 388.3,385.15 388.5,385.06 388.7,384.97 388.9,384.88 389.1,384.78 389.3,384.69 389.5,384.59 389.7,384.49 389.9,384.4 390.1,384.29 390.3,384.19 390.5,384.09 390.7,383.98 390.9,383.87 391.1,383.76 391.3,383.65 391.5,383.53 391.7,383.4 391.9,383.28 392.1,383.15 392.3,383.03 392.5,382.9 392.7,382.77 392.9,382.64 393.1,382.51 393.3,382.39 393.5,382.26 393.7,382.14 393.9,382.01 394.1,381.9 394.3,381.78 394.5,381.66 394.7,381.54 394.9,381.42 395.1,381.31 395.3,381.19 395.5,381.08 395.7,380.96 395.9,380.85 396.1,380.73 396.3,380.61 396.5,380.5 396.7,380.38 396.9,380.27 397.1,380.15 397.3,380.03 397.5,379.92 397.7,379.8 397.9,379.68 398.1,379.56 398.3,379.45 398.5,379.33 398.7,379.21 398.9,379.09 399.1,378.97 399.3,378.85 399.5,378.74 399.7,378.62 399.9,378.5 400.1,378.38 400.3,378.26 400.5,378.14 400.7,378.02 400.9,377.9 401.1,377.77 401.3,377.65 401.5,377.53 401.7,377.41 401.9,377.28 402.1,377.16 402.3,377.04 402.5,376.91 402.7,376.79 402.9,376.67 403.1,376.54 403.3,376.42 403.5,376.3 403.7,376.18 403.9,376.06 404.1,375.94 404.3,375.82 404.5,375.7 404.7,375.59 404.9,375.47 405.1,375.36 405.3,375.24 405.5,375.13 405.7,375.02 405.9,374.91 406.1,374.8 406.3,374.69 406.5,374.59 406.7,374.48 406.9,374.38 407.1,374.28 407.3,374.18 407.5,374.08 407.7,373.98 407.9,373.88 408.1,373.79 408.3,373.69 408.5,373.6 408.7,373.5 408.9,373.41 409.1,373.31 409.3,373.22 409.5,373.13 409.7,373.04 409.9,372.95 410.1,372.86 410.3,372.77 410.5,372.68 410.7,372.59 410.9,372.51 411.1,372.42 411.3,372.33 411.5,372.25 411.7,372.16 411.9,372.08 412.1,371.99 412.3,371.91 412.5,371.83 412.7,371.75 412.9,371.66 413.1,371.58 413.3,371.5 413.5,371.42 413.7,371.34 413.9,371.26 414.1,371.18 414.3,371.1 414.5,371.02 414.7,370.95 414.9,370.87 415.1,370.79 415.3,370.71 415.5,370.63 415.7,370.56 415.9,370.48 416.1,370.4 416.3,370.33 416.5,370.25 416.7,370.18 416.9,370.1 417.1,370.03 417.3,369.95 417.5,369.88 417.7,369.81 417.9,369.73 418.1,369.66 418.3,369.59 418.5,369.52 418.7,369.45 418.9,369.38 419.1,369.31 419.3,369.25 419.5,369.18 419.7,369.11 419.9,369.05 420.1,368.98 420.3,368.92 420.5,368.86 420.7,368.8 420.9,368.73 421.1,368.67 421.3,368.62 421.5,368.56 421.7,368.5 421.9,368.44 422.1,368.38 422.3,368.32 422.5,368.27 422.7,368.21 422.9,368.15 423.1,368.09 423.3,368.04 423.5,367.98 423.7,367.92 423.9,367.87 424.1,367.81 424.3,367.76 424.5,367.71 424.7,367.65 424.9,367.6 425.1,367.55 425.3,367.5 425.5,367.45 425.7,367.4 425.9,367.35 426.1,367.3 426.3,367.25 426.5,367.21 426.7,367.17 426.9,367.12 427.1,367.08 427.3,367.04 427.5,367 427.7,366.96 427.9,366.92 428.1,366.89 428.3,366.86 428.5,366.82 428.7,366.79 428.9,366.76 429.1,366.73 429.3,366.7 429.5,366.67 429.7,366.65 429.9,366.62 430.1,366.59 430.3,366.56 430.5,366.54 430.7,366.51 430.9,366.48 431.1,366.46 431.3,366.43 431.5,366.41 431.7,366.39 431.9,366.36 432.1,366.34 432.3,366.32 432.5,366.29 432.7,366.27 432.9,366.25 433.1,366.23 433.3,366.21 433.5,366.19 433.7,366.17 433.9,366.16 434.1,366.14 434.3,366.12 434.5,366.1 434.7,366.09 434.9,366.07 435.1,366.06 435.3,366.04 435.5,366.03 435.7,366.02 435.9,366 436.1,365.99 436.3,365.98 436.5,365.97 436.7,365.96 436.9,365.94 437.1,365.93 437.3,365.92 437.5,365.91 437.7,365.9 437.9,365.88 438.1,365.87 438.3,365.86 438.5,365.85 438.7,365.84 438.9,365.83 439.1,365.82 439.3,365.81 439.5,365.8 439.7,365.79 439.9,365.78 440.1,365.77 440.3,365.76 440.5,365.76 440.7,365.75 440.9,365.74 441.1,365.73 441.3,365.73 441.5,365.72 441.7,365.72 441.9,365.71 442.1,365.71 442.3,365.71 442.5,365.71 442.7,365.7 442.9,365.7 443.1,365.7 443.3,365.7 443.5,365.7 443.7,365.7 443.9,365.7 444.1,365.7 444.3,365.7 444.5,365.71 444.7,365.71 444.9,365.71 445.1,365.71 445.3,365.71 445.5,365.71 445.7,365.72 445.9,365.72 446.1,365.72 446.3,365.72 446.5,365.72 446.7,365.73 446.9,365.73 447.1,365.73 447.3,365.74 447.5,365.74 447.7,365.74 447.9,365.75 448.1,365.75 448.3,365.75 448.5,365.76 448.7,365.76 448.9,365.77 449.1,365.77 449.3,365.78 449.5,365.78 449.7,365.78 449.9,365.79 450.1,365.79 450.3,365.8 450.5,365.8 450.7,365.81 450.9,365.82 451.1,365.83 451.3,365.84 451.5,365.85 451.7,365.87 451.9,365.89 452.1,365.91 452.3,365.92 452.5,365.95 452.7,365.97 452.9,365.99 453.1,366.02 453.3,366.04 453.5,366.07 453.7,366.1 453.9,366.13 454.1,366.16 454.3,366.19 454.5,366.22 454.7,366.25 454.9,366.29 455.1,366.32 455.3,366.36 455.5,366.39 455.7,366.43 455.9,366.46 456.1,366.5 456.3,366.54 456.5,366.57 456.7,366.61 456.9,366.65 457.1,366.69 457.3,366.72 457.5,366.76 457.7,366.8 457.9,366.84 458.1,366.88 458.3,366.92 458.5,366.96 458.7,367.01 458.9,367.05 459.1,367.1 459.3,367.15 459.5,367.2 459.7,367.25 459.9,367.31 460.1,367.36 460.3,367.42 460.5,367.47 460.7,367.53 460.9,367.59 461.1,367.65 461.3,367.71 461.5,367.77 461.7,367.84 461.9,367.9 462.1,367.97 462.3,368.03 462.5,368.1 462.7,368.17 462.9,368.24 463.1,368.31 463.3,368.38 463.5,368.45 463.7,368.52 463.9,368.59 464.1,368.66 464.3,368.74 464.5,368.81 464.7,368.89 464.9,368.96 465.1,369.04 465.3,369.11 465.5,369.19 465.7,369.27 465.9,369.35 466.1,369.44 466.3,369.52 466.5,369.61 466.7,369.7 466.9,369.79 467.1,369.88 467.3,369.97 467.5,370.07 467.7,370.16 467.9,370.26 468.1,370.36 468.3,370.46 468.5,370.56 468.7,370.66 468.9,370.76 469.1,370.87 469.3,370.97 469.5,371.08 469.7,371.19 469.9,371.29 470.1,371.4 470.3,371.51 470.5,371.62 470.7,371.74 470.9,371.88 471.1,372.02 471.3,372.15 471.5,372.29 471.7,372.43 471.9,372.57 472.1,372.72 472.3,372.86 472.5,373 472.7,373.15 472.9,373.3 473.1,373.44 473.3,373.6 473.5,373.75 473.7,373.9 473.9,374.06 474.1,374.22 474.3,374.37 474.5,374.53 474.7,374.7 474.9,374.86 475.1,375.03 475.3,375.19 475.5,375.36 475.7,375.53 475.9,375.7 476.1,375.88 476.3,376.05 476.5,376.23 476.7,376.41 476.9,376.58 477.1,376.77 477.3,376.95 477.5,377.13 477.7,377.32 477.9,377.5 478.1,377.69 478.3,377.88 478.5,378.08 478.7,378.27 478.9,378.47 479.1,378.67 479.3,378.87 479.5,379.08 479.7,379.28 479.9,379.49 480.1,379.7 480.3,379.91 480.5,380.13 480.7,380.34 480.9,380.56 481.1,380.78 481.3,381 481.5,381.23 481.7,381.45 481.9,381.68 482.1,381.9 482.3,382.13 482.5,382.36 482.7,382.59 482.9,382.83 483.1,383.06 483.3,383.29 483.5,383.53 483.7,383.77 483.9,384 484.1,384.24 484.3,384.48 484.5,384.72 484.7,384.97 484.9,385.21 485.1,385.45 485.3,385.69 485.5,385.94 485.7,386.19 485.9,386.45 486.1,386.7 486.3,386.97 486.5,387.23 486.7,387.5 486.9,387.77 487.1,388.04 487.3,388.31 487.5,388.58 487.7,388.85 487.9,389.12 488.1,389.4 488.3,389.67 488.5,389.94 488.7,390.21 488.9,390.47 489.1,390.74 489.3,391 489.5,391.26 489.7,391.51 489.9,391.76 490.1,392.02 490.3,392.27 490.5,392.52 490.7,392.77 490.9,393.02 491.1,393.27 491.3,393.52 491.5,393.78 491.7,394.03 491.9,394.29 492.1,394.56 492.3,394.83 492.5,395.1 492.7,395.38 492.9,395.66 493.1,395.95 493.3,396.25 493.5,396.53 493.7,396.82 493.9,397.11 494.1,397.41 494.3,397.71 494.5,398.02 494.7,398.33 494.9,398.65 495.1,398.96 495.3,399.28 495.5,399.59 495.7,399.91 495.9,400.22 496.1,400.53 496.3,400.84 496.5,401.15 496.7,401.47 496.9,401.78 497.1,402.1 497.3,402.41 497.5,402.73 497.7,403.05 497.9,403.36 498.1,403.68 498.3,404 498.5,404.32 498.7,404.64 498.9,404.96 499.1,405.28 499.3,405.6 499.5,405.92 499.7,406.25 499.9,406.57 500.1,406.89 500.3,407.21 500.5,407.53 500.7,407.85 500.9,408.17 501.1,408.5 501.3,408.82 501.5,409.14 501.7,409.47 501.9,409.79 502.1,410.12 502.3,410.44 502.5,410.76 502.7,411.09 502.9,411.41 503.1,411.73 503.3,412.06 503.5,412.38 503.7,412.7 503.9,413.02 504.1,413.34 504.3,413.65 504.5,413.97 504.7,414.28 504.9,414.59 505.1,414.9 505.3,415.21 505.5,415.52 505.7,415.83 505.9,416.14 506.1,416.45 506.3,416.76 506.5,417.08 506.7,417.4 506.9,417.72 507.1,418.04 507.3,418.37 507.5,418.71 507.7,419.05 507.9,419.39 508.1,419.74 508.3,420.1 508.5,420.47 508.7,420.84 508.9,421.35 509.1,421.56 509.3,422.13 509.5,422.24 509.7,422.72 509.9,423.47 510.1,423.53 510.3,424.11 510.5,424.05 510.7,424.42 510.9,424.57 511.1,425.5 511.3,425.41 511.5,426.45 511.7,426.14 511.9,426.7 512.1,426.83 512.3,427.28 512.5,427.09 512.7,428.11 512.9,428.36 513.1,427.79 513.3,428.97 513.5,429.59 513.7,430.18 513.9,429.92 514.1,430.29 514.3,430.14 514.5,431.07 514.7,430.76 514.9,431.85 515.1,430.69 515.3,432.4 515.5,432.13 515.7,432.75 515.9,434.68 516.1,432.87 516.3,434.65 516.5,433.71 516.7,437.12 516.9,437.45 517.1,438.11 517.3,438.41 517.5,437.31 517.7,437.39 517.9,439.02 518.1,438.75 518.3,439.68 518.5,438.34 518.7,438.85 518.9,439.87 519.1,439.85 519.3,438.78 519.5,440.73 519.7,444.34 519.9,442.84 520.1,443.38 520.3,442.03 520.5,442.92 520.7,442.65 520.9,446.96 521.1,442.42 521.3,445.36 521.5,443.77 521.7,444.93 521.9,447.69 522.1,447.93 522.3,445.64 522.5,444.93 522.7,449.14 522.9,449.93 523.1,452.08 523.3,450.22 523.5,450.19 523.7,449.61 523.9,448.02 524.1,450.73 524.3,452.49 524.5,451.17 524.7,450.78 524.9,450.55 525.1,450.89 525.3,451.98 525.5,450.4 525.7,452.92 525.9,455.3 526.1,453.23 526.3,447.76 526.5,455.74 526.7,446.39 526.9,455.49 527.1,452.06 527.3,459.63 527.5,455.21 527.7,450.52 527.9,459.4 528.1,458.28 528.3,455.08 528.5,455.27 528.7,462.08 528.9,461.7 529.1,456.45 529.3,456.7 529.5,455.21 529.7,459.22 529.9,456.08 530.1,453.61 530.3,465.4 530.5,454.76 530.7,456.25 530.9,453.59 531.1,462.98 531.3,461.35 531.5,461.02 531.7,464.8 531.9,455.77 532.1,461.05 532.3,469.59 532.5,461.41 532.7,471.12 532.9,475.27 533.1,471.76 533.3,464.27 533.5,463.81 533.7,465.69 533.9,461.07 534.1,450.99 534.3,473.84 534.5,462.43 534.7,463.72 534.9,474.88 535.1,469.88 535.3,464.71 535.5,466.15 535.7,472.82 535.9,460.79 536.1,464.91 536.3,461.93 536.5,454.73 536.7,476.73 536.9,459.43 537.1,463.41 537.3,473.89 537.5,467.63 537.7,470.48 537.9,476.42 538.1,461.02 538.3,473.43 538.5,483.4 538.7,460.96 538.9,471.32 539.1,464.56 539.3,465.88 539.5,469.97 539.7,470.58 539.9,487.82 540.1,470.82 540.3,476.66 540.5,463.39 540.7,473.75 540.9,472.69 541.1,466.53 541.3,476.67 541.5,473.04 541.7,471.18 541.9,463.83 542.1,479.06 542.3,460.74 542.5,468.23 542.7,471.19 542.9,464.13 543.1,458.51 543.3,457.29 543.5,475.67" fill="none" stroke="#0000ff" stroke-width="1.5" stroke-linejoin="round" />
<polyline points="321.3,456.25 321.5,455.56 321.7,455.88 321.9,453.52 322.1,446.36 322.3,456.85 322.5,448.07 322.7,446.96 322.9,452.51 323.1,453.68 323.3,449.64 323.5,447.08 323.7,443.84 323.9,448.15 324.1,445.74 324.3,452.71 324.5,454.14 324.7,457 324.9,455.05 325.1,452.34 325.3,450.43 325.5,455.53 325.7,448.28 325.9,451.38 326.1,453.19 326.3,453.59 326.5,444.14 326.7,450.38 326.9,453.97 327.1,454.14 327.3,444.69 327.5,452.82 327.7,446.84 327.9,446.04 328.1,458.62 328.3,446.24 328.5,451.45 328.7,454.36 328.9,452.52 329.1,448.79 329.3,449.39 329.5,449.2 329.7,452.97 329.9,446.35 330.1,445.61 330.3,444.54 330.5,447.23 330.7,444.35 330.9,443.72 331.1,448.12 331.3,447.54 331.5,448.46 331.7,448.53 331.9,447.54 332.1,455.41 332.3,451.12 332.5,448.62 332.7,456.39 332.9,454.32 333.1,445.27 333.3,453.06 333.5,451.26 333.7,448.77 333.9,451.19 334.1,452.24 334.3,451.2 334.5,450.9 334.7,451.28 334.9,449.1 335.1,445.12 335.3,448.54 335.5,445.07 335.7,447.44 335.9,447.16 336.1,447.79 336.3,450.06 336.5,448.14 336.7,448.4 336.9,451.93 337.1,447.18 337.3,447.57 337.5,448.03 337.7,450.22 337.9,455.11 338.1,445.25 338.3,448.82 338.5,453.62 338.7,447 338.9,449.99 339.1,446.78 339.3,448.44 339.5,445.64 339.7,447.51 339.9,447.31 340.1,447.47 340.3,445.1 340.5,450.19 340.7,445.02 340.9,445.88 341.1,448.15 341.3,446.9 341.5,447.52 341.7,446.36 341.9,444.56 342.1,447.17 342.3,444.46 342.5,443.89 342.7,444.14 342.9,442.41 343.1,444.71 343.3,443.25 343.5,440.33 343.7,443.56 343.9,443.41 344.1,442.8 344.3,441.62 344.5,442.74 344.7,441.83 344.9,443.19 345.1,441.9 345.3,441.43 345.5,441.12 345.7,439.96 345.9,438.5 346.1,439.1 346.3,439.46 346.5,437.83 346.7,437.52 346.9,438.16 347.1,436.81 347.3,437.07 347.5,436.43 347.7,436.06 347.9,435.11 348.1,435.25 348.3,434.71 348.5,434.22 348.7,433.76 348.9,433.43 349.1,433.09 349.3,432.7 349.5,432.31 349.7,431.91 349.9,431.52 350.1,431.12 350.3,430.73 350.5,430.33 350.7,429.93 350.9,429.54 351.1,429.14 351.3,428.75 351.5,428.35 351.7,427.96 351.9,427.57 352.1,427.18 352.3,426.79 352.5,426.41 352.7,426.02 352.9,425.64 353.1,425.25 353.3,424.86 353.5,424.48 353.7,424.09 353.9,423.71 354.1,423.32 354.3,422.94 354.5,422.56 354.7,422.18 354.9,421.81 355.1,421.43 355.3,421.06 355.5,420.7 355.7,420.34 355.9,419.98 356.1,419.63 356.3,419.28 356.5,418.94 356.7,418.61 356.9,418.28 357.1,417.96 357.3,417.64 357.5,417.32 357.7,417.01 357.9,416.7 358.1,416.39 358.3,416.09 358.5,415.78 358.7,415.48 358.9,415.17 359.1,414.87 359.3,414.56 359.5,414.25 359.7,413.94 359.9,413.63 360.1,413.31 360.3,412.99 360.5,412.66 360.7,412.33 360.9,411.99 361.1,411.66 361.3,411.32 361.5,410.98 361.7,410.64 361.9,410.29 362.1,409.95 362.3,409.61 362.5,409.27 362.7,408.93 362.9,408.59 363.1,408.25 363.3,407.9 363.5,407.55 363.7,407.21 363.9,406.86 364.1,406.51 364.3,406.17 364.5,405.82 364.7,405.48 364.9,405.13 365.1,404.8 365.3,404.46 365.5,404.13 365.7,403.8 365.9,403.47 366.1,403.14 366.3,402.81 366.5,402.48 366.7,402.15 366.9,401.82 367.1,401.5 367.3,401.18 367.5,400.86 367.7,400.55 367.9,400.25 368.1,399.95 368.3,399.65 368.5,399.37 368.7,399.09 368.9,398.81 369.1,398.54 369.3,398.27 369.5,398 369.7,397.74 369.9,397.48 370.1,397.22 370.3,396.97 370.5,396.72 370.7,396.48 370.9,396.23 371.1,395.99 371.3,395.76 371.5,395.52 371.7,395.29 371.9,395.06 372.1,394.83 372.3,394.6 372.5,394.38 372.7,394.16 372.9,393.95 373.1,393.74 373.3,393.53 373.5,393.33 373.7,393.13 373.9,392.94 374.1,392.76 374.3,392.58 374.5,392.41 374.7,392.23 374.9,392.07 375.1,391.91 375.3,391.75 375.5,391.59 375.7,391.44 375.9,391.29 376.1,391.14 376.3,391 376.5,390.85 376.7,390.71 376.9,390.58 377.1,390.44 377.3,390.31 377.5,390.18 377.7,390.05 377.9,389.92 378.1,389.79 378.3,389.67 378.5,389.54 378.7,389.42 378.9,389.3 379.1,389.18 379.3,389.06 379.5,388.95 379.7,388.84 379.9,388.72 380.1,388.62 380.3,388.51 380.5,388.4 380.7,388.3 380.9,388.2 381.1,388.1 381.3,388.01 381.5,387.91 381.7,387.82 381.9,387.73 382.1,387.65 382.3,387.56 382.5,387.48 382.7,387.4 382.9,387.32 383.1,387.25 383.3,387.17 383.5,387.09 383.7,387.02 383.9,386.94 384.1,386.87 384.3,386.79 384.5,386.72 384.7,386.64 384.9,386.56 385.1,386.48 385.3,386.4 385.5,386.32 385.7,386.24 385.9,386.16 386.1,386.08 386.3,386 386.5,385.91 386.7,385.83 386.9,385.75 387.1,385.67 387.3,385.58 387.5,385.5 387.7,385.41 387.9,385.33 388.1,385.24 388.3,385.15 388.5,385.06 388.7,384.97 388.9,384.88 389.1,384.78 389.3,384.69 389.5,384.59 389.7,384.49 389.9,384.4 390.1,384.29 390.3,384.19 390.5,384.09 390.7,383.98 390.9,383.87 391.1,383.76 391.3,383.65 391.5,383.53 391.7,383.4 391.9,383.28 392.1,383.15 392.3,383.03 392.5,382.9 392.7,382.77 392.9,382.64 393.1,382.51 393.3,382.39 393.5,382.26 393.7,382.14 393.9,382.01 394.1,381.9 394.3,381.78 394.5,381.66 394.7,381.54 394.9,381.42 395.1,381.31 395.3,381.19 395.5,381.08 395.7,380.96 395.9,380.85 396.1,380.73 396.3,380.61 396.5,380.5 396.7,380.38 396.9,380.27 397.1,380.15 397.3,380.03 397.5,379.92 397.7,379.8 397.9,379.68 398.1,379.56 398.3,379.45 398.5,379.33 398.7,379.21 398.9,379.09 399.1,378.97 399.3,378.85 399.5,378.74 399.7,378.62 399.9,378.5 400.1,378.38 400.3,378.26 400.5,378.14 400.7,378.02 400.9,377.9 401.1,377.77 401.3,377.65 401.5,377.53 401.7,377.41 401.9,377.28 402.1,377.16 402.3,377.04 402.5,376.91 402.7,376.79 402.9,376.67 403.1,376.54 403.3,376.42 403.5,376.3 403.7,376.18 403.9,376.06 404.1,375.94 404.3,375.82 404.5,375.7 404.7,375.59 404.9,375.47 405.1,375.36 405.3,375.24 405.5,375.13 405.7,375.02 405.9,374.91 406.1,374.8 406.3,374.69 406.5,374.59 406.7,374.48 406.9,374.38 407.1,374.28 407.3,374.18 407.5,374.08 407.7,373.98 407.9,373.88 408.1,373.79 408.3,373.69 408.5,373.6 408.7,373.5 408.9,373.41 409.1,373.31 409.3,373.22 409.5,373.13 409.7,373.04 409.9,372.95 410.1,372.86 410.3,372.77 410.5,372.68 410.7,372.59 410.9,372.51 411.1,372.42 411.3,372.33 411.5,372.25 411.7,372.16 411.9,372.08 412.1,371.99 412.3,371.91 412.5,371.83 412.7,371.75 412.9,371.66 413.1,371.58 413.3,371.5 413.5,371.42 413.7,371.34 413.9,371.26 414.1,371.18 414.3,371.1 414.5,371.02 414.7,370.95 414.9,370.87 415.1,370.79 415.3,370.71 415.5,370.63 415.7,370.56 415.9,370.48 416.1,370.4 416.3,370.33 416.5,370.25 416.7,370.18 416.9,370.1 417.1,370.03 417.3,369.95 417.5,369.88 417.7,369.81 417.9,369.73 418.1,369.66 418.3,369.59 418.5,369.52 418.7,369.45 418.9,369.38 419.1,369.31 419.3,369.25 419.5,369.18 419.7,369.11 419.9,369.05 420.1,368.98 420.3,368.92 420.5,368.86 420.7,368.8 420.9,368.73 421.1,368.67 421.3,368.62 421.5,368.56 421.7,368.5 421.9,368.44 422.1,368.38 422.3,368.32 422.5,368.27 422.7,368.21 422.9,368.15 423.1,368.09 423.3,368.04 423.5,367.98 423.7,367.92 423.9,367.87 424.1,367.81 424.3,367.76 424.5,367.71 424.7,367.65 424.9,367.6 425.1,367.55 425.3,367.5 425.5,367.45 425.7,367.4 425.9,367.35 426.1,367.3 426.3,367.25 426.5,367.21 426.7,367.17 426.9,367.12 427.1,367.08 427.3,367.04 427.5,367 427.7,366.96 427.9,366.92 428.1,366.89 428.3,366.86 428.5,366.82 428.7,366.79 428.9,366.76 429.1,366.73 429.3,366.7 429.5,366.67 429.7,366.65 429.9,366.62 430.1,366.59 430.3,366.56 430.5,366.54 430.7,366.51 430.9,366.48 431.1,366.46 431.3,366.43 431.5,366.41 431.7,366.39 431.9,366.36 432.1,366.34 432.3,366.32 432.5,366.29 432.7,366.27 432.9,366.25 433.1,366.23 433.3,366.21 433.5,366.19 433.7,366.17 433.9,366.16 434.1,366.14 434.3,366.12 434.5,366.1 434.7,366.09 434.9,366.07 435.1,366.06 435.3,366.04 435.5,366.03 435.7,366.02 435.9,366 436.1,365.99 436.3,365.98 436.5,365.97 436.7,365.96 436.9,365.94 437.1,365.93 437.3,365.92 437.5,365.91 437.7,365.9 437.9,365.88 438.1,365.87 438.3,365.86 438.5,365.85 438.7,365.84 438.9,365.83 439.1,365.82 439.3,365.81 439.5,365.8 439.7,365.79 439.9,365.78 440.1,365.77 440.3,365.76 440.5,365.76 440.7,365.75 440.9,365.74 441.1,365.73 441.3,365.73 441.5,365.72 441.7,365.72 441.9,365.71 442.1,365.71 442.3,365.71 442.5,365.71 442.7,365.7 442.9,365.7 443.1,365.7 443.3,365.7 443.5,365.7 443.7,365.7 443.9,365.7 444.1,365.7 444.3,365.7 444.5,365.71 444.7,365.71 444.9,365.71 445.1,365.71 445.3,365.71 445.5,365.71 445.7,365.72 445.9,365.72 446.1,365.72 446.3,365.72 446.5,365.72 446.7,365.73 446.9,365.73 447.1,365.73 447.3,365.74 447.5,365.74 447.7,365.74 447.9,365.75 448.1,365.75 448.3,365.75 448.5,365.76 448.7,365.76 448.9,365.77 449.1,365.77 449.3,365.78 449.5,365.78 449.7,365.78 449.9,365.79 450.1,365.79 450.3,365.8 450.5,365.8 450.7,365.81 450.9,365.82 451.1,365.83 451.3,365.84 451.5,365.85 451.7,365.87 451.9,365.89 452.1,365.91 452.3,365.92 452.5,365.95 452.7,365.97 452.9,365.99 453.1,366.02 453.3,366.04 453.5,366.07 453.7,366.1 453.9,366.13 454.1,366.16 454.3,366.19 454.5,366.22 454.7,366.25 454.9,366.29 455.1,366.32 455.3,366.36 455.5,366.39 455.7,366.43 455.9,366.46 456.1,366.5 456.3,366.54 456.5,366.57 456.7,366.61 456.9,366.65 457.1,366.69 457.3,366.72 457.5,366.76 457.7,366.8 457.9,366.84 458.1,366.88 458.3,366.92 458.5,366.96 458.7,367.01 458.9,367.05 459.1,367.1 459.3,367.15 459.5,367.2 459.7,367.25 459.9,367.31 460.1,367.36 460.3,367.42 460.5,367.47 460.7,367.53 460.9,367.59 461.1,367.65 461.3,367.71 461.5,367.77 461.7,367.84 461.9,367.9 462.1,367.97 462.3,368.03 462.5,368.1 462.7,368.17 462.9,368.24 463.1,368.31 463.3,368.38 463.5,368.45 463.7,368.52 463.9,368.59 464.1,368.66 464.3,368.74 464.5,368.81 464.7,368.89 464.9,368.96 465.1,369.04 465.3,369.11 465.5,369.19 465.7,369.27 465.9,369.35 466.1,369.44 466.3,369.52 466.5,369.61 466.7,369.7 466.9,369.79 467.1,369.88 467.3,369.97 467.5,370.07 467.7,370.16 467.9,370.26 468.1,370.36 468.3,370.46 468.5,370.56 468.7,370.66 468.9,370.76 469.1,370.87 469.3,370.97 469.5,371.08 469.7,371.19 469.9,371.29 470.1,371.4 470.3,371.51 470.5,371.62 470.7,371.74 470.9,371.88 471.1,372.02 471.3,372.15 471.5,372.29 471.7,372.43 471.9,372.57 472.1,372.72 472.3,372.86 472.5,373 472.7,373.15 472.9,373.3 473.1,373.44 473.3,373.6 473.5,373.75 473.7,373.9 473.9,374.06 474.1,374.22 474.3,374.37 474.5,374.53 474.7,374.7 474.9,374.86 475.1,375.03 475.3,375.19 475.5,375.36 475.7,375.53 475.9,375.7 476.1,375.88 476.3,376.05 476.5,376.23 476.7,376.41 476.9,376.58 477.1,376.77 477.3,376.95 477.5,377.13 477.7,377.32 477.9,377.5 478.1,377.69 478.3,377.88 478.5,378.08 478.7,378.27 478.9,378.47 479.1,378.67 479.3,378.87 479.5,379.08 479.7,379.28 479.9,379.49 480.1,379.7 480.3,379.91 480.5,380.13 480.7,380.34 480.9,380.56 481.1,380.78 481.3,381 481.5,381.23 481.7,381.45 481.9,381.68 482.1,381.9 482.3,382.13 482.5,382.36 482.7,382.59 482.9,382.83 483.1,383.06 483.3,383.29 483.5,383.53 483.7,383.77 483.9,384 484.1,384.24 484.3,384.48 484.5,384.72 484.7,384.97 484.9,385.21 485.1,385.45 485.3,385.69 485.5,385.94 485.7,386.19 485.9,386.45 486.1,386.7 486.3,386.97 486.5,387.23 486.7,387.5 486.9,387.77 487.1,388.04 487.3,388.31 487.5,388.58 487.7,388.85 487.9,389.12 488.1,389.4 488.3,389.67 488.5,389.94 488.7,390.21 488.9,390.47 489.1,390.74 489.3,391 489.5,391.26 489.7,391.51 489.9,391.76 490.1,392.02 490.3,392.27 490.5,392.52 490.7,392.77 490.9,393.02 491.1,393.27 491.3,393.52 491.5,393.78 491.7,394.03 491.9,394.29 492.1,394.56 492.3,394.83 492.5,395.1 492.7,395.38 492.9,395.66 493.1,395.95 493.3,396.25 493.5,396.53 493.7,396.82 493.9,397.11 494.1,397.41 494.3,397.71 494.5,398.02 494.7,398.33 494.9,398.65 495.1,398.96 495.3,399.28 495.5,399.59 495.7,399.91 495.9,400.22 496.1,400.53 496.3,400.84 496.5,401.15 496.7,401.47 496.9,401.78 497.1,402.1 497.3,402.41 497.5,402.73 497.7,403.05 497.9,403.36 498.1,403.68 498.3,404 498.5,404.32 498.7,404.64 498.9,404.96 499.1,405.28 499.3,405.6 499.5,405.92 499.7,406.25 499.9,406.57 500.1,406.89 500.3,407.21 500.5,407.53 500.7,407.85 500.9,408.17 501.1,408.5 501.3,408.82 501.5,409.14 501.7,409.47 501.9,409.79 502.1,410.12 502.3,410.44 502.5,410.76 502.7,411.09 502.9,411.41 503.1,411.73 503.3,412.06 503.5,412.38 503.7,412.7 503.9,413.02 504.1,413.34 504.3,413.65 504.5,413.97 504.7,414.28 504.9,414.59 505.1,414.9 505.3,415.21 505.5,415.52 505.7,415.83 505.9,416.14 506.1,416.45 506.3,416.76 506.5,417.08 506.7,417.4 506.9,417.72 507.1,418.04 507.3,418.37 507.5,418.71 507.7,419.05 507.9,419.39 508.1,419.74 508.3,420.1 508.5,420.47 508.7,420.81 508.9,421.16 509.1,421.47 509.3,421.92 509.5,422.28 509.7,422.68 509.9,423.32 510.1,423.26 510.3,424.04 510.5,424.34 510.7,424.45 510.9,425.13 511.1,425.43 511.3,426.5 511.5,426.3 511.7,426.75 511.9,426.92 512.1,426.74 512.3,427.45 512.5,427.72 512.7,427.93 512.9,427.77 513.1,428.03 513.3,428.73 513.5,429.46 513.7,429.07 513.9,430.18 514.1,430.44 514.3,430.44 514.5,431.36 514.7,432.18 514.9,432.67 515.1,432.3 515.3,432.23 515.5,432.23 515.7,433.83 515.9,433.32 516.1,433.87 516.3,434.71 516.5,432.19 516.7,435.83 516.9,436.38 517.1,435.8 517.3,434.7 517.5,437.28 517.7,435.79 517.9,439.02 518.1,438.78 518.3,439.03 518.5,439.6 518.7,439.69 518.9,440.36 519.1,440.97 519.3,442.52 519.5,440.89 519.7,441.95 519.9,442.06 520.1,441.04 520.3,442.41 520.5,443.17 520.7,441.66 520.9,444.95 521.1,447.13 521.3,445.87 521.5,447.32 521.7,446.01 521.9,446.31 522.1,446.35 522.3,446.03 522.5,445.71 522.7,446.37 522.9,447.2 523.1,448.37 523.3,449.07 523.5,448.47 523.7,449.27 523.9,451.31 524.1,450.27 524.3,448.19 524.5,449.9 524.7,452.23 524.9,450.07 525.1,449.42 525.3,453.87 525.5,447.34 525.7,448.86 525.9,452.49 526.1,449.38 526.3,451.94 526.5,451.18 526.7,455.71 526.9,454.91 527.1,454.49 527.3,454.41 527.5,455.9 527.7,459.65 527.9,458.56 528.1,453.98 528.3,457.02 528.5,450.49 528.7,451.81 528.9,457.51 529.1,456.36 529.3,464.11 529.5,455.02 529.7,453.59 529.9,461.6 530.1,462.11 530.3,461.62 530.5,455.85 530.7,454.49 530.9,464.98 531.1,462.28 531.3,457.65 531.5,459.66 531.7,462.97 531.9,458.42 532.1,467.51 532.3,471.72 532.5,458.45 532.7,457.82 532.9,453.95 533.1,465.48 533.3,469.47 533.5,463.34 533.7,464.61 533.9,463.78 534.1,464.99 534.3,455.15 534.5,462.59 534.7,455.35 534.9,470.13 535.1,472.47 535.3,458.79 535.5,474.28 535.7,474 535.9,474.03 536.1,479.36 536.3,462.64 536.5,453.83 536.7,462.05 536.9,460.13 537.1,468.88 537.3,473.52 537.5,462.47 537.7,475.16 537.9,478.05 538.1,473.12 538.3,458.76 538.5,463.94 538.7,468.72 538.9,475.09 539.1,474.18 539.3,464.47 539.5,467.66 539.7,473.02 539.9,458.28 540.1,472.18 540.3,479.66 540.5,469.12 540.7,458.75 540.9,461.58 541.1,459.78 541.3,473.43 541.5,463.51 541.7,465.91 541.9,468.91 542.1,476.07 542.3,457.07 542.5,466.07 542.7,471.32 542.9,460.91 543.1,446.38 543.3,479.08 543.5,464.78" fill="none" stroke="#ff0000" stroke-width="1.5" stroke-linejoin="round" stroke-dasharray="9.6,2.4,1.5,2.4"/>
<polyline points="321.3,449.51 321.5,450.65 321.7,451.59 321.9,459.37 322.1,449.87 322.3,458.66 322.5,448.19 322.7,449.22 322.9,448.44 323.1,448.43 323.3,450.23 323.5,453.07 323.7,452.27 323.9,446.05 324.1,453.18 324.3,451.95 324.5,453.63 324.7,452.9 324.9,452.17 325.1,450.23 325.3,452.09 325.5,452.28 325.7,453.15 325.9,450.73 326.1,455.57 326.3,450.82 326.5,446.54 326.7,453.55 326.9,451.09 327.1,441.4 327.3,454.24 327.5,456.34 327.7,452.29 327.9,444.74 328.1,443.96 328.3,454.86 328.5,448.84 328.7,450.71 328.9,452.67 329.1,457.18 329.3,447.21 329.5,453.47 329.7,449.59 329.9,450.28 330.1,444.41 330.3,446.67 330.5,454.17 330.7,451.26 330.9,447.08 331.1,454.57 331.3,451.55 331.5,449.57 331.7,455.26 331.9,454.02 332.1,455.39 332.3,449.26 332.5,451.79 332.7,447.26 332.9,449.68 333.1,448.28 333.3,450.18 333.5,447.7 333.7,450.16 333.9,452.65 334.1,446.38 334.3,446.94 334.5,443.28 334.7,450.05 334.9,451.23 335.1,453.56 335.3,460.08 335.5,453.02 335.7,448.12 335.9,451.73 336.1,456.16 336.3,447.69 336.5,450.75 336.7,450.09 336.9,450.2 337.1,449.39 337.3,447.82 337.5,453.18 337.7,449.42 337.9,450.02 338.1,446.03 338.3,451.08 338.5,444.78 338.7,447.1 338.9,444.73 339.1,449.89 339.3,446.44 339.5,447.33 339.7,451.25 339.9,448.46 340.1,448.74 340.3,449.67 340.5,449.11 340.7,450.3 340.9,448.17 341.1,446.43 341.3,448.37 341.5,449.6 341.7,444.57 341.9,446.9 342.1,445.94 342.3,446.13 342.5,446.36 342.7,444.2 342.9,445.73 343.1,444.55 343.3,446.47 343.5,446.37 343.7,444.16 343.9,440.56 344.1,442.56 344.3,439.85 344.5,441.38 344.7,440.97 344.9,441.79 345.1,440.71 345.3,438.31 345.5,438.66 345.7,440.14 345.9,439.58 346.1,437.6 346.3,438.81 346.5,437.32 346.7,438.27 346.9,436.86 347.1,436.01 347.3,436.09 347.5,436.03 347.7,435.71 347.9,435.42 348.1,435.02 348.3,434.37 348.5,434.07 348.7,433.83 348.9,433.54 349.1,433.09 349.3,432.7 349.5,432.31 349.7,431.91 349.9,431.52 350.1,431.12 350.3,430.73 350.5,430.33 350.7,429.93 350.9,429.54 351.1,429.14 351.3,428.75 351.5,428.35 351.7,427.96 351.9,427.57 352.1,427.18 352.3,426.79 352.5,426.41 352.7,426.02 352.9,425.64 353.1,425.25 353.3,424.86 353.5,424.48 353.7,424.09 353.9,423.71 354.1,423.32 354.3,422.94 354.5,422.56 354.7,422.18 354.9,421.81 355.1,421.43 355.3,421.06 355.5,420.7 355.7,420.34 355.9,419.98 356.1,419.63 356.3,419.28 356.5,418.94 356.7,418.61 356.9,418.28 357.1,417.96 357.3,417.64 357.5,417.32 357.7,417.01 357.9,416.7 358.1,416.39 358.3,416.09 358.5,415.78 358.7,415.48 358.9,415.17 359.1,414.87 359.3,414.56 359.5,414.25 359.7,413.94 359.9,413.63 360.1,413.31 360.3,412.99 360.5,412.66 360.7,412.33 360.9,411.99 361.1,411.66 361.3,411.32 361.5,410.98 361.7,410.64 361.9,410.29 362.1,409.95 362.3,409.61 362.5,409.27 362.7,408.93 362.9,408.59 363.1,408.25 363.3,407.9 363.5,407.55 363.7,407.21 363.9,406.86 364.1,406.51 364.3,406.17 364.5,405.82 364.7,405.48 364.9,405.13 365.1,404.8 365.3,404.46 365.5,404.13 365.7,403.8 365.9,403.47 366.1,403.14 366.3,402.81 366.5,402.48 366.7,402.15 366.9,401.82 367.1,401.5 367.3,401.18 367.5,400.86 367.7,400.55 367.9,400.25 368.1,399.95 368.3,399.65 368.5,399.37 368.7,399.09 368.9,398.81 369.1,398.54 369.3,398.27 369.5,398 369.7,397.74 369.9,397.48 370.1,397.22 370.3,396.97 370.5,396.72 370.7,396.48 370.9,396.23 371.1,395.99 371.3,395.76 371.5,395.52 371.7,395.29 371.9,395.06 372.1,394.83 372.3,394.6 372.5,394.38 372.7,394.16 372.9,393.95 373.1,393.74 373.3,393.53 373.5,393.33 373.7,393.13 373.9,392.94 374.1,392.76 374.3,392.58 374.5,392.41 374.7,392.23 374.9,392.07 375.1,391.91 375.3,391.75 375.5,391.59 375.7,391.44 375.9,391.29 376.1,391.14 376.3,391 376.5,390.85 376.7,390.71 376.9,390.58 377.1,390.44 377.3,390.31 377.5,390.18 377.7,390.05 377.9,389.92 378.1,389.79 378.3,389.67 378.5,389.54 378.7,389.42 378.9,389.3 379.1,389.18 379.3,389.06 379.5,388.95 379.7,388.84 379.9,388.72 380.1,388.62 380.3,388.51 380.5,388.4 380.7,388.3 380.9,388.2 381.1,388.1 381.3,388.01 381.5,387.91 381.7,387.82 381.9,387.73 382.1,387.65 382.3,387.56 382.5,387.48 382.7,387.4 382.9,387.32 383.1,387.25 383.3,387.17 383.5,387.09 383.7,387.02 383.9,386.94 384.1,386.87 384.3,386.79 384.5,386.72 384.7,386.64 384.9,386.56 385.1,386.48 385.3,386.4 385.5,386.32 385.7,386.24 385.9,386.16 386.1,386.08 386.3,386 386.5,385.91 386.7,385.83 386.9,385.75 387.1,385.67 387.3,385.58 387.5,385.5 387.7,385.41 387.9,385.33 388.1,385.24 388.3,385.15 388.5,385.06 388.7,384.97 388.9,384.88 389.1,384.78 389.3,384.69 389.5,384.59 389.7,384.49 389.9,384.4 390.1,384.29 390.3,384.19 390.5,384.09 390.7,383.98 390.9,383.87 391.1,383.76 391.3,383.65 391.5,383.53 391.7,383.4 391.9,383.28 392.1,383.15 392.3,383.03 392.5,382.9 392.7,382.77 392.9,382.64 393.1,382.51 393.3,382.39 393.5,382.26 393.7,382.14 393.9,382.01 394.1,381.9 394.3,381.78 394.5,381.66 394.7,381.54 394.9,381.42 395.1,381.31 395.3,381.19 395.5,381.08 395.7,380.96 395.9,380.85 396.1,380.73 396.3,380.61 396.5,380.5 396.7,380.38 396.9,380.27 397.1,380.15 397.3,380.03 397.5,379.92 397.7,379.8 397.9,379.68 398.1,379.56 398.3,379.45 398.5,379.33 398.7,379.21 398.9,379.09 399.1,378.97 399.3,378.85 399.5,378.74 399.7,378.62 399.9,378.5 400.1,378.38 400.3,378.26 400.5,378.14 400.7,378.02 400.9,377.9 401.1,377.77 401.3,377.65 401.5,377.53 401.7,377.41 401.9,377.28 402.1,377.16 402.3,377.04 402.5,376.91 402.7,376.79 402.9,376.67 403.1,376.54 403.3,376.42 403.5,376.3 403.7,376.18 403.9,376.06 404.1,375.94 404.3,375.82 404.5,375.7 404.7,375.59 404.9,375.47 405.1,375.36 405.3,375.24 405.5,375.13 405.7,375.02 405.9,374.91 406.1,374.8 406.3,374.69 406.5,374.59 406.7,374.48 406.9,374.38 407.1,374.28 407.3,374.18 407.5,374.08 407.7,373.98 407.9,373.88 408.1,373.79 408.3,373.69 408.5,373.6 408.7,373.5 408.9,373.41 409.1,373.31 409.3,373.22 409.5,373.13 409.7,373.04 409.9,372.95 410.1,372.86 410.3,372.77 410.5,372.68 410.7,372.59 410.9,372.51 411.1,372.42 411.3,372.33 411.5,372.25 411.7,372.16 411.9,372.08 412.1,371.99 412.3,371.91 412.5,371.83 412.7,371.75 412.9,371.66 413.1,371.58 413.3,371.5 413.5,371.42 413.7,371.34 413.9,371.26 414.1,371.18 414.3,371.1 414.5,371.02 414.7,370.95 414.9,370.87 415.1,370.79 415.3,370.71 415.5,370.63 415.7,370.56 415.9,370.48 416.1,370.4 416.3,370.33 416.5,370.25 416.7,370.18 416.9,370.1 417.1,370.03 417.3,369.95 417.5,369.88 417.7,369.81 417.9,369.73 418.1,369.66 418.3,369.59 418.5,369.52 418.7,369.45 418.9,369.38 419.1,369.31 419.3,369.25 419.5,369.18 419.7,369.11 419.9,369.05 420.1,368.98 420.3,368.92 420.5,368.86 420.7,368.8 420.9,368.73 421.1,368.67 421.3,368.62 421.5,368.56 421.7,368.5 421.9,368.44 422.1,368.38 422.3,368.32 422.5,368.27 422.7,368.21 422.9,368.15 423.1,368.09 423.3,368.04 423.5,367.98 423.7,367.92 423.9,367.87 424.1,367.81 424.3,367.76 424.5,367.71 424.7,367.65 424.9,367.6 425.1,367.55 425.3,367.5 425.5,367.45 425.7,367.4 425.9,367.35 426.1,367.3 426.3,367.25 426.5,367.21 426.7,367.17 426.9,367.12 427.1,367.08 427.3,367.04 427.5,367 427.7,366.96 427.9,366.92 428.1,366.89 428.3,366.86 428.5,366.82 428.7,366.79 428.9,366.76 429.1,366.73 429.3,366.7 429.5,366.67 429.7,366.65 429.9,366.62 430.1,366.59 430.3,366.56 430.5,366.54 430.7,366.51 430.9,366.48 431.1,366.46 431.3,366.43 431.5,366.41 431.7,366.39 431.9,366.36 432.1,366.34 432.3,366.32 432.5,366.29 432.7,366.27 432.9,366.25 433.1,366.23 433.3,366.21 433.5,366.19 433.7,366.17 433.9,366.16 434.1,366.14 434.3,366.12 434.5,366.1 434.7,366.09 434.9,366.07 435.1,366.06 435.3,366.04 435.5,366.03 435.7,366.02 435.9,366 436.1,365.99 436.3,365.98 436.5,365.97 436.7,365.96 436.9,365.94 437.1,365.93 437.3,365.92 437.5,365.91 437.7,365.9 437.9,365.88 438.1,365.87 438.3,365.86 438.5,365.85 438.7,365.84 438.9,365.83 439.1,365.82 439.3,365.81 439.5,365.8 439.7,365.79 439.9,365.78 440.1,365.77 440.3,365.76 440.5,365.76 440.7,365.75 440.9,365.74 441.1,365.73 441.3,365.73 441.5,365.72 441.7,365.72 441.9,365.71 442.1,365.71 442.3,365.71 442.5,365.71 442.7,365.7 442.9,365.7 443.1,365.7 443.3,365.7 443.5,365.7 443.7,365.7 443.9,365.7 444.1,365.7 444.3,365.7 444.5,365.71 444.7,365.71 444.9,365.71 445.1,365.71 445.3,365.71 445.5,365.71 445.7,365.72 445.9,365.72 446.1,365.72 446.3,365.72 446.5,365.72 446.7,365.73 446.9,365.73 447.1,365.73 447.3,365.74 447.5,365.74 447.7,365.74 447.9,365.75 448.1,365.75 448.3,365.75 448.5,365.76 448.7,365.76 448.9,365.77 449.1,365.77 449.3,365.78 449.5,365.78 449.7,365.78 449.9,365.79 450.1,365.79 450.3,365.8 450.5,365.8 450.7,365.81 450.9,365.82 451.1,365.83 451.3,365.84 451.5,365.85 451.7,365.87 451.9,365.89 452.1,365.91 452.3,365.92 452.5,365.95 452.7,365.97 452.9,365.99 453.1,366.02 453.3,366.04 453.5,366.07 453.7,366.1 453.9,366.13 454.1,366.16 454.3,366.19 454.5,366.22 454.7,366.25 454.9,366.29 455.1,366.32 455.3,366.36 455.5,366.39 455.7,366.43 455.9,366.46 456.1,366.5 456.3,366.54 456.5,366.57 456.7,366.61 456.9,366.65 457.1,366.69 457.3,366.72 457.5,366.76 457.7,366.8 457.9,366.84 458.1,366.88 458.3,366.92 458.5,366.96 458.7,367.01 458.9,367.05 459.1,367.1 459.3,367.15 459.5,367.2 459.7,367.25 459.9,367.31 460.1,367.36 460.3,367.42 460.5,367.47 460.7,367.53 460.9,367.59 461.1,367.65 461.3,367.71 461.5,367.77 461.7,367.84 461.9,367.9 462.1,367.97 462.3,368.03 462.5,368.1 462.7,368.17 462.9,368.24 463.1,368.31 463.3,368.38 463.5,368.45 463.7,368.52 463.9,368.59 464.1,368.66 464.3,368.74 464.5,368.81 464.7,368.89 464.9,368.96 465.1,369.04 465.3,369.11 465.5,369.19 465.7,369.27 465.9,369.35 466.1,369.44 466.3,369.52 466.5,369.61 466.7,369.7 466.9,369.79 467.1,369.88 467.3,369.97 467.5,370.07 467.7,370.16 467.9,370.26 468.1,370.36 468.3,370.46 468.5,370.56 468.7,370.66 468.9,370.76 469.1,370.87 469.3,370.97 469.5,371.08 469.7,371.19 469.9,371.29 470.1,371.4 470.3,371.51 470.5,371.62 470.7,371.74 470.9,371.88 471.1,372.02 471.3,372.15 471.5,372.29 471.7,372.43 471.9,372.57 472.1,372.72 472.3,372.86 472.5,373 472.7,373.15 472.9,373.3 473.1,373.44 473.3,373.6 473.5,373.75 473.7,373.9 473.9,374.06 474.1,374.22 474.3,374.37 474.5,374.53 474.7,374.7 474.9,374.86 475.1,375.03 475.3,375.19 475.5,375.36 475.7,375.53 475.9,375.7 476.1,375.88 476.3,376.05 476.5,376.23 476.7,376.41 476.9,376.58 477.1,376.77 477.3,376.95 477.5,377.13 477.7,377.32 477.9,377.5 478.1,377.69 478.3,377.88 478.5,378.08 478.7,378.27 478.9,378.47 479.1,378.67 479.3,378.87 479.5,379.08 479.7,379.28 479.9,379.49 480.1,379.7 480.3,379.91 480.5,380.13 480.7,380.34 480.9,380.56 481.1,380.78 481.3,381 481.5,381.23 481.7,381.45 481.9,381.68 482.1,381.9 482.3,382.13 482.5,382.36 482.7,382.59 482.9,382.83 483.1,383.06 483.3,383.29 483.5,383.53 483.7,383.77 483.9,384 484.1,384.24 484.3,384.48 484.5,384.72 484.7,384.97 484.9,385.21 485.1,385.45 485.3,385.69 485.5,385.94 485.7,386.19 485.9,386.45 486.1,386.7 486.3,386.97 486.5,387.23 486.7,387.5 486.9,387.77 487.1,388.04 487.3,388.31 487.5,388.58 487.7,388.85 487.9,389.12 488.1,389.4 488.3,389.67 488.5,389.94 488.7,390.21 488.9,390.47 489.1,390.74 489.3,391 489.5,391.26 489.7,391.51 489.9,391.76 490.1,392.02 490.3,392.27 490.5,392.52 490.7,392.77 490.9,393.02 491.1,393.27 491.3,393.52 491.5,393.78 491.7,394.03 491.9,394.29 492.1,394.56 492.3,394.83 492.5,395.1 492.7,395.38 492.9,395.66 493.1,395.95 493.3,396.25 493.5,396.53 493.7,396.82 493.9,397.11 494.1,397.41 494.3,397.71 494.5,398.02 494.7,398.33 494.9,398.65 495.1,398.96 495.3,399.28 495.5,399.59 495.7,399.91 495.9,400.22 496.1,400.53 496.3,400.84 496.5,401.15 496.7,401.47 496.9,401.78 497.1,402.1 497.3,402.41 497.5,402.73 497.7,403.05 497.9,403.36 498.1,403.68 498.3,404 498.5,404.32 498.7,404.64 498.9,404.96 499.1,405.28 499.3,405.6 499.5,405.92 499.7,406.25 499.9,406.57 500.1,406.89 500.3,407.21 500.5,407.53 500.7,407.85 500.9,408.17 501.1,408.5 501.3,408.82 501.5,409.14 501.7,409.47 501.9,409.79 502.1,410.12 502.3,410.44 502.5,410.76 502.7,411.09 502.9,411.41 503.1,411.73 503.3,412.06 503.5,412.38 503.7,412.7 503.9,413.02 504.1,413.34 504.3,413.65 504.5,413.97 504.7,414.28 504.9,414.59 505.1,414.9 505.3,415.21 505.5,415.52 505.7,415.83 505.9,416.14 506.1,416.45 506.3,416.76 506.5,417.08 506.7,417.4 506.9,417.72 507.1,418.04 507.3,418.37 507.5,418.71 507.7,419.05 507.9,419.39 508.1,419.74 508.3,420.1 508.5,420.45 508.7,420.81 508.9,421.15 509.1,421.75 509.3,422.17 509.5,422.46 509.7,422.82 509.9,423.13 510.1,423.73 510.3,424.13 510.5,424.13 510.7,425.21 510.9,425.33 511.1,425.3 511.3,425.39 511.5,425.9 511.7,425.7 511.9,426.56 512.1,426.7 512.3,426.97 512.5,427.68 512.7,428.73 512.9,428.53 513.1,428.83 513.3,429.57 513.5,428.97 513.7,430.07 513.9,431.08 514.1,430.42 514.3,431.49 514.5,430.72 514.7,433.49 514.9,433.18 515.1,432.18 515.3,432.34 515.5,432.85 515.7,431.94 515.9,433.9 516.1,434.55 516.3,433.65 516.5,435.19 516.7,434.87 516.9,434.37 517.1,436.34 517.3,436.75 517.5,437.8 517.7,437.12 517.9,437.31 518.1,437.27 518.3,438.2 518.5,436.94 518.7,439.81 518.9,440.32 519.1,441.36 519.3,439.63 519.5,441.76 519.7,442.74 519.9,444.7 520.1,443.34 520.3,442.18 520.5,448.01 520.7,446.07 520.9,446.14 521.1,446.35 521.3,445.24 521.5,446.32 521.7,445.76 521.9,445.8 522.1,444.18 522.3,447.43 522.5,446.63 522.7,448.02 522.9,447.59 523.1,448.89 523.3,450.83 523.5,448.04 523.7,446.89 523.9,451.49 524.1,449.87 524.3,450.19 524.5,455.36 524.7,446.13 524.9,447.49 525.1,448.42 525.3,449.13 525.5,454.21 525.7,458.82 525.9,452.76 526.1,452.66 526.3,453.97 526.5,454.78 526.7,450.89 526.9,451.77 527.1,454.49 527.3,456.32 527.5,447.78 527.7,452.68 527.9,455.35 528.1,460.42 528.3,461.66 528.5,466.34 528.7,457.92 528.9,456.31 529.1,458.35 529.3,458.06 529.5,457.42 529.7,455.21 529.9,466.97 530.1,465.22 530.3,455.5 530.5,458.73 530.7,457.85 530.9,466.23 531.1,452.67 531.3,460.77 531.5,463.2 531.7,467.63 531.9,461.29 532.1,461.76 532.3,463.98 532.5,452.22 532.7,455.3 532.9,464.21 533.1,468.69 533.3,467.93 533.5,462.36 533.7,485.82 533.9,462.98 534.1,467.1 534.3,449.59 534.5,462.43 534.7,467.17 534.9,465.65 535.1,470.97 535.3,471.62 535.5,466.92 535.7,481.93 535.9,466.61 536.1,479.72 536.3,472.4 536.5,472.6 536.7,461.55 536.9,454.81 537.1,455.91 537.3,470.92 537.5,468.98 537.7,466.91 537.9,466.01 538.1,458.36 538.3,461.91 538.5,467.39 538.7,451.9 538.9,460.12 539.1,452.53 539.3,467.84 539.5,462.69 539.7,464.64 539.9,465.88 540.1,475.86 540.3,465.19 540.5,479.23 540.7,464 540.9,452.85 541.1,457.61 541.3,464.5 541.5,469.35 541.7,460.48 541.9,475.57 542.1,476.95 542.3,477.75 542.5,463.45 542.7,477.91 542.9,461.69 543.1,458.02 543.3,460.82 543.5,467.54" fill="none" stroke="#008000" stroke-width="1.5" stroke-linejoin="round" stroke-dasharray="5.55,2.4"/>
</g>
<rect x="321.9" y="350.25" width="220.6" height="129.05" fill="none" stroke="#000" stroke-width="0.8"/>
<line x1="353.76" y1="479.3" x2="353.76" y2="482.68" stroke="#000" stroke-width="0.8" />
<text x="341.73" y="493.38" font-size="10.13" fill="#1a1a1a" stroke="#1a1a1a" stroke-width="0.2" textLength="24.11" lengthAdjust="spacingAndGlyphs">1510</text>
<line x1="410.33" y1="479.3" x2="410.33" y2="482.68" stroke="#000" stroke-width="0.8" />
<text x="398.3" y="493.38" font-size="10.13" fill="#1a1a1a" stroke="#1a1a1a" stroke-width="0.2" textLength="24.11" lengthAdjust="spacingAndGlyphs">1540</text>
<line x1="466.89" y1="479.3" x2="466.89" y2="482.68" stroke="#000" stroke-width="0.8" />
<text x="454.86" y="493.38" font-size="10.13" fill="#1a1a1a" stroke="#1a1a1a" stroke-width="0.2" textLength="24.11" lengthAdjust="spacingAndGlyphs">1570</text>
<line x1="523.46" y1="479.3" x2="523.46" y2="482.68" stroke="#000" stroke-width="0.8" />
<text x="511.43" y="493.38" font-size="10.13" fill="#1a1a1a" stroke="#1a1a1a" stroke-width="0.2" textLength="24.11" lengthAdjust="spacingAndGlyphs">1600</text>
<line x1="318.52" y1="366.2" x2="321.9" y2="366.2" stroke="#000" stroke-width="0.8" />
<text x="309.23" y="369.95" font-size="10.13" fill="#1a1a1a" stroke="#1a1a1a" stroke-width="0.2" textLength="5.68" lengthAdjust="spacingAndGlyphs">0</text>
<line x1="318.52" y1="398.53" x2="321.9" y2="398.53" stroke="#000" stroke-width="0.8" />
<text x="295.22" y="402.28" font-size="10.13" fill="#1a1a1a" stroke="#1a1a1a" stroke-width="0.2" textLength="19.76" lengthAdjust="spacingAndGlyphs">−10</text>
<line x1="318.52" y1="430.86" x2="321.9" y2="430.86" stroke="#000" stroke-width="0.8" />
<text x="295.22" y="434.61" font-size="10.13" fill="#1a1a1a" stroke="#1a1a1a" stroke-width="0.2" textLength="19.76" lengthAdjust="spacingAndGlyphs">−20</text>
<line x1="318.52" y1="463.19" x2="321.9" y2="463.19" stroke="#000" stroke-width="0.8" />
<text x="295.22" y="466.94" font-size="10.13" fill="#1a1a1a" stroke="#1a1a1a" stroke-width="0.2" textLength="19.76" lengthAdjust="spacingAndGlyphs">−30</text>
<text x="390.78" y="506.2" font-size="10.13" fill="#1a1a1a" stroke="#1a1a1a" stroke-width="0.2" textLength="82.92" lengthAdjust="spacingAndGlyphs">Wavelength (nm)</text>
<text transform="translate(288.6,414.5) rotate(-90)" x="-32.82" y="0" font-size="10.13" fill="#1a1a1a" stroke="#1a1a1a" stroke-width="0.2" textLength="65.3" lengthAdjust="spacingAndGlyphs">Intensity (dB)</text>
<text x="340.34" y="367.2" font-size="11.35" fill="#1a1a1a" stroke="#1a1a1a" stroke-width="0.2" textLength="12.96" lengthAdjust="spacingAndGlyphs">(f)</text>
<rect x="395.3" y="394.2" width="73.6" height="40.2" rx="2" fill="#fff" fill-opacity="0.8" stroke="#ccc" stroke-width="0.8"/>
<line x1="397.8" y1="401.8" x2="416.4" y2="401.8" stroke="#0000ff" stroke-width="1.5" />
<line x1="397.8" y1="414" x2="416.4" y2="414" stroke="#ff0000" stroke-width="1.5" stroke-dasharray="9.6,2.4,1.5,2.4"/>
<line x1="397.8" y1="426.4" x2="416.4" y2="426.4" stroke="#008000" stroke-width="1.5" stroke-dasharray="5.55,2.4"/>
<text x="422.58" y="405.2" font-size="9.13" fill="#1a1a1a" stroke="#1a1a1a" stroke-width="0.2" textLength="38.03" lengthAdjust="spacingAndGlyphs">80 hours</text>
<text x="422.27" y="417.4" font-size="9.13" fill="#1a1a1a" stroke="#1a1a1a" stroke-width="0.2" textLength="43.54" lengthAdjust="spacingAndGlyphs">160 hours</text>
<text x="422.51" y="429.8" font-size="9.13" fill="#1a1a1a" stroke="#1a1a1a" stroke-width="0.2" textLength="43.62" lengthAdjust="spacingAndGlyphs">240 hours</text>
</svg></body></html>
